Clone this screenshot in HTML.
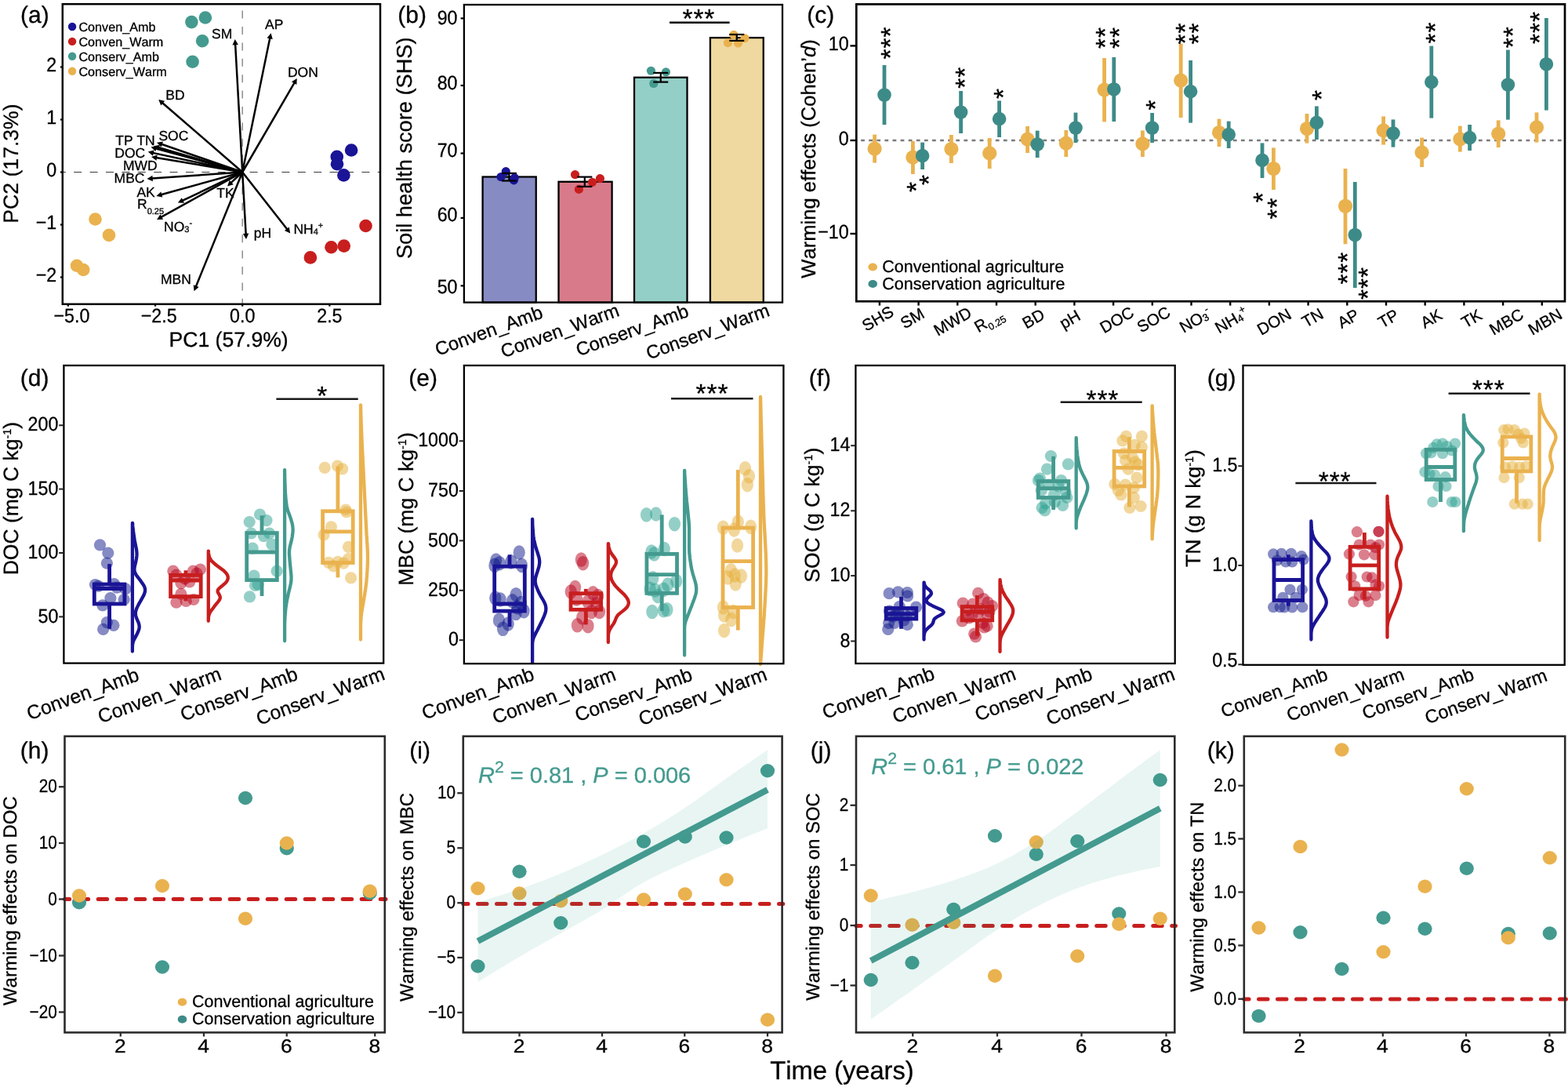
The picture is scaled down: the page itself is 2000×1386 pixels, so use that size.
<!DOCTYPE html>
<html lang="en"><head><meta charset="utf-8"><title>Figure</title>
<style>
html,body{margin:0;padding:0;background:#fff;}
body{width:2000px;height:1386px;overflow:hidden;}
svg{display:block;font-family:"Liberation Sans",sans-serif;text-rendering:geometricPrecision;font-kerning:none;}
</style></head><body>
<svg width="2000" height="1386" viewBox="0 0 2000 1386" role="img" aria-label="Multi-panel figure: PCA biplot, soil health score bars, warming effects, raincloud plots and time trends">
<rect width="2000" height="1386" fill="#fff"/>
<g id="pa">
<line x1="79.8" y1="219.5" x2="485" y2="219.5" stroke="#3a3a3a" stroke-width="1.1" stroke-dasharray="10 10.4" stroke-dashoffset="6"/>
<line x1="309.2" y1="387.8" x2="309.2" y2="5.2" stroke="#858585" stroke-width="1.4" stroke-dasharray="10 10.4" stroke-dashoffset="3"/>
<circle cx="244.4" cy="28.1" r="8.3" fill="#449a8f"/>
<circle cx="261.9" cy="22.5" r="8.3" fill="#449a8f"/>
<circle cx="258.1" cy="52.25" r="8.3" fill="#449a8f"/>
<circle cx="245.6" cy="78.75" r="8.3" fill="#449a8f"/>
<circle cx="448.1" cy="191.5" r="8.3" fill="#1a1496"/>
<circle cx="429.75" cy="199.9" r="8.3" fill="#1a1496"/>
<circle cx="430" cy="209.25" r="8.3" fill="#1a1496"/>
<circle cx="438.4" cy="223.4" r="8.3" fill="#1a1496"/>
<circle cx="466.5" cy="288" r="8.3" fill="#c81e1e"/>
<circle cx="438.75" cy="313.6" r="8.3" fill="#c81e1e"/>
<circle cx="422.5" cy="315.25" r="8.3" fill="#c81e1e"/>
<circle cx="395.9" cy="328.4" r="8.3" fill="#c81e1e"/>
<circle cx="121.5" cy="279.5" r="8.3" fill="#eab24e"/>
<circle cx="139" cy="299.9" r="8.3" fill="#eab24e"/>
<circle cx="98" cy="338.75" r="8.3" fill="#eab24e"/>
<circle cx="106.25" cy="344" r="8.3" fill="#eab24e"/>
<line x1="309.2" y1="219.5" x2="300.1" y2="56.19" stroke="#000" stroke-width="2.5"/>
<polygon points="299.75,50 303.85,56.98 296.46,57.39" fill="#000"/>
<line x1="309.2" y1="219.5" x2="344.35" y2="48.32" stroke="#000" stroke-width="2.5"/>
<polygon points="345.6,42.25 347.78,50.05 340.53,48.56" fill="#000"/>
<line x1="309.2" y1="219.5" x2="375.63" y2="105.36" stroke="#000" stroke-width="2.5"/>
<polygon points="378.75,100 378.33,108.08 371.93,104.36" fill="#000"/>
<line x1="309.2" y1="219.5" x2="206.94" y2="130.96" stroke="#000" stroke-width="2.5"/>
<polygon points="202.25,126.9 210.12,128.82 205.27,134.41" fill="#000"/>
<line x1="309.2" y1="219.5" x2="205.86" y2="183.78" stroke="#000" stroke-width="2.5"/>
<polygon points="200,181.75 208.01,180.61 205.6,187.6" fill="#000"/>
<line x1="309.2" y1="219.5" x2="201.95" y2="188.04" stroke="#000" stroke-width="2.5"/>
<polygon points="196,186.3 203.95,184.78 201.87,191.88" fill="#000"/>
<line x1="309.2" y1="219.5" x2="198.48" y2="189.23" stroke="#000" stroke-width="2.5"/>
<polygon points="192.5,187.6 200.42,185.93 198.47,193.07" fill="#000"/>
<line x1="309.2" y1="219.5" x2="194.81" y2="194.9" stroke="#000" stroke-width="2.5"/>
<polygon points="188.75,193.6 196.57,191.5 195.01,198.73" fill="#000"/>
<line x1="309.2" y1="219.5" x2="199.11" y2="200.93" stroke="#000" stroke-width="2.5"/>
<polygon points="193,199.9 200.72,197.45 199.48,204.75" fill="#000"/>
<line x1="309.2" y1="219.5" x2="193.68" y2="227.57" stroke="#000" stroke-width="2.5"/>
<polygon points="187.5,228 194.42,223.81 194.94,231.19" fill="#000"/>
<line x1="309.2" y1="219.5" x2="205.38" y2="248.25" stroke="#000" stroke-width="2.5"/>
<polygon points="199.4,249.9 205.35,244.41 207.33,251.54" fill="#000"/>
<line x1="309.2" y1="219.5" x2="232.5" y2="255.94" stroke="#000" stroke-width="2.5"/>
<polygon points="226.9,258.6 231.82,252.17 234.99,258.85" fill="#000"/>
<line x1="309.2" y1="219.5" x2="205.43" y2="276.9" stroke="#000" stroke-width="2.5"/>
<polygon points="200,279.9 204.51,273.18 208.09,279.65" fill="#000"/>
<line x1="309.2" y1="219.5" x2="294.53" y2="233.17" stroke="#000" stroke-width="2.5"/>
<polygon points="290,237.4 292.74,229.78 297.79,235.2" fill="#000"/>
<line x1="309.2" y1="219.5" x2="313.65" y2="298.71" stroke="#000" stroke-width="2.5"/>
<polygon points="314,304.9 309.9,297.92 317.29,297.5" fill="#000"/>
<line x1="309.2" y1="219.5" x2="366.43" y2="292.52" stroke="#000" stroke-width="2.5"/>
<polygon points="370.25,297.4 362.9,294.02 368.72,289.45" fill="#000"/>
<line x1="309.2" y1="219.5" x2="249.84" y2="365.51" stroke="#000" stroke-width="2.5"/>
<polygon points="247.5,371.25 246.78,363.19 253.64,365.97" fill="#000"/>
<text x="270" y="49" font-size="17.5" stroke="#000" stroke-width="0.3">SM</text>
<text x="338.1" y="37.1" font-size="17.5" stroke="#000" stroke-width="0.3">AP</text>
<text x="366.9" y="98.4" font-size="17.5" stroke="#000" stroke-width="0.3">DON</text>
<text x="211.25" y="126.5" font-size="17.5" stroke="#000" stroke-width="0.3">BD</text>
<text x="202.4" y="179.2" font-size="17.5" stroke="#000" stroke-width="0.3">SOC</text>
<text x="147.2" y="184.9" font-size="17.5" stroke="#000" stroke-width="0.3">TP TN</text>
<text x="146.25" y="200.75" font-size="17.5" stroke="#000" stroke-width="0.3">DOC</text>
<text x="156.9" y="216.75" font-size="17.5" stroke="#000" stroke-width="0.3">MWD</text>
<text x="145.6" y="233" font-size="17.5" stroke="#000" stroke-width="0.3">MBC</text>
<text x="174.4" y="251.1" font-size="17.5" stroke="#000" stroke-width="0.3">AK</text>
<text x="276.25" y="252.4" font-size="17.5" stroke="#000" stroke-width="0.3">TK</text>
<text x="323.75" y="303" font-size="17.5" stroke="#000" stroke-width="0.3">pH</text>
<text x="205" y="361.8" font-size="17.5" stroke="#000" stroke-width="0.3">MBN</text>
<text x="175" y="266.1" font-size="17.5" stroke="#000" stroke-width="0.3">R<tspan font-size="11" dy="6.5">0.25</tspan></text>
<text x="209" y="294.5" font-size="17.5" stroke="#000" stroke-width="0.3">NO<tspan font-size="11" dy="1">3</tspan><tspan font-size="11" dy="-7.5">-</tspan></text>
<text x="374.4" y="297.6" font-size="17.5" stroke="#000" stroke-width="0.3">NH<tspan font-size="11" dy="1">4</tspan><tspan font-size="11" dy="-7.5">+</tspan></text>
<circle cx="92.1" cy="34" r="5.2" fill="#1a1496"/>
<text x="100.4" y="39.8" font-size="16.2" stroke="#000" stroke-width="0.3">Conven_Amb</text>
<circle cx="92.1" cy="52.9" r="5.2" fill="#c81e1e"/>
<text x="100.4" y="58.7" font-size="16.2" stroke="#000" stroke-width="0.3">Conven_Warm</text>
<circle cx="92.1" cy="71.8" r="5.2" fill="#449a8f"/>
<text x="100.4" y="77.6" font-size="16.2" stroke="#000" stroke-width="0.3">Conserv_Amb</text>
<circle cx="92.1" cy="90.7" r="5.2" fill="#eab24e"/>
<text x="100.4" y="96.5" font-size="16.2" stroke="#000" stroke-width="0.3">Conserv_Warm</text>
<rect x="79.8" y="5.2" width="405.2" height="382.6" fill="none" stroke="#000" stroke-width="2.5"/>
<line x1="76.95" y1="85.5" x2="79.8" y2="85.5" stroke="#000" stroke-width="2.2"/>
<text font-size="25" text-anchor="end" stroke="#000" stroke-width="0.3" transform="translate(72.3 91.4) scale(0.93 1)">2</text>
<line x1="76.95" y1="152.5" x2="79.8" y2="152.5" stroke="#000" stroke-width="2.2"/>
<text font-size="25" text-anchor="end" stroke="#000" stroke-width="0.3" transform="translate(72.3 158.4) scale(0.93 1)">1</text>
<line x1="76.95" y1="219.5" x2="79.8" y2="219.5" stroke="#000" stroke-width="2.2"/>
<text font-size="25" text-anchor="end" stroke="#000" stroke-width="0.3" transform="translate(72.3 225.4) scale(0.93 1)">0</text>
<line x1="76.95" y1="286.5" x2="79.8" y2="286.5" stroke="#000" stroke-width="2.2"/>
<text font-size="25" text-anchor="end" stroke="#000" stroke-width="0.3" transform="translate(72.3 292.4) scale(0.93 1)">−1</text>
<line x1="76.95" y1="353.5" x2="79.8" y2="353.5" stroke="#000" stroke-width="2.2"/>
<text font-size="25" text-anchor="end" stroke="#000" stroke-width="0.3" transform="translate(72.3 359.4) scale(0.93 1)">−2</text>
<line x1="86.85" y1="387.8" x2="86.85" y2="390.65" stroke="#000" stroke-width="2.2"/>
<text font-size="25" text-anchor="middle" stroke="#000" stroke-width="0.3" transform="translate(91.45 410.8) scale(0.93 1)">−5.0</text>
<line x1="198.02" y1="387.8" x2="198.02" y2="390.65" stroke="#000" stroke-width="2.2"/>
<text font-size="25" text-anchor="middle" stroke="#000" stroke-width="0.3" transform="translate(202.62 410.8) scale(0.93 1)">−2.5</text>
<line x1="309.2" y1="387.8" x2="309.2" y2="390.65" stroke="#000" stroke-width="2.2"/>
<text font-size="25" text-anchor="middle" stroke="#000" stroke-width="0.3" transform="translate(309.2 410.8) scale(0.93 1)">0.0</text>
<line x1="420.38" y1="387.8" x2="420.38" y2="390.65" stroke="#000" stroke-width="2.2"/>
<text font-size="25" text-anchor="middle" stroke="#000" stroke-width="0.3" transform="translate(420.38 410.8) scale(0.93 1)">2.5</text>
<text x="291.6" y="442" font-size="26.6" text-anchor="middle" stroke="#000" stroke-width="0.3">PC1 (57.9%)</text>
<text font-size="26.6" text-anchor="middle" stroke="#000" stroke-width="0.3" transform="translate(23.2 208.5) rotate(-90)">PC2 (17.3%)</text>
<text x="26" y="28.8" font-size="30" stroke="#000" stroke-width="0.3">(a)</text>
</g>
<g id="pb">
<rect x="615.6" y="225.5" width="68.15" height="160.1" fill="#868bc4" stroke="#000" stroke-width="2.3"/>
<rect x="712.5" y="231.75" width="68.1" height="153.85" fill="#d87a8a" stroke="#000" stroke-width="2.3"/>
<rect x="809" y="98.75" width="67.5" height="286.85" fill="#94cfc7" stroke="#000" stroke-width="2.3"/>
<rect x="905.9" y="48.1" width="67.85" height="337.5" fill="#f0d9a0" stroke="#000" stroke-width="2.3"/>
<circle cx="645.25" cy="218.6" r="5.6" fill="#1a1496"/>
<circle cx="639" cy="225.5" r="5.6" fill="#1a1496"/>
<circle cx="655.4" cy="229.9" r="5.6" fill="#1a1496"/>
<circle cx="656.3" cy="226.6" r="5.6" fill="#1a1496"/>
<circle cx="733.5" cy="222.6" r="5.6" fill="#c81e1e"/>
<circle cx="738.4" cy="241.4" r="5.6" fill="#c81e1e"/>
<circle cx="765.4" cy="227.6" r="5.6" fill="#c81e1e"/>
<circle cx="755.5" cy="232.3" r="5.6" fill="#c81e1e"/>
<circle cx="830.4" cy="90.25" r="5.6" fill="#449a8f"/>
<circle cx="849.4" cy="91.9" r="5.6" fill="#449a8f"/>
<circle cx="833.75" cy="106.5" r="5.6" fill="#449a8f"/>
<circle cx="935.9" cy="44.4" r="5.6" fill="#eab24e"/>
<circle cx="950" cy="48.75" r="5.6" fill="#eab24e"/>
<circle cx="928.4" cy="54.6" r="5.6" fill="#eab24e"/>
<circle cx="941.5" cy="55" r="5.6" fill="#eab24e"/>
<line x1="649.4" y1="220.9" x2="649.4" y2="230.5" stroke="#000" stroke-width="2.2"/>
<line x1="639.9" y1="220.9" x2="658.9" y2="220.9" stroke="#000" stroke-width="2.2"/>
<line x1="639.9" y1="230.5" x2="658.9" y2="230.5" stroke="#000" stroke-width="2.2"/>
<line x1="745.8" y1="225.6" x2="745.8" y2="237.9" stroke="#000" stroke-width="2.2"/>
<line x1="736.3" y1="225.6" x2="755.3" y2="225.6" stroke="#000" stroke-width="2.2"/>
<line x1="736.3" y1="237.9" x2="755.3" y2="237.9" stroke="#000" stroke-width="2.2"/>
<line x1="842.75" y1="92.9" x2="842.75" y2="104.6" stroke="#000" stroke-width="2.2"/>
<line x1="833.25" y1="92.9" x2="852.25" y2="92.9" stroke="#000" stroke-width="2.2"/>
<line x1="833.25" y1="104.6" x2="852.25" y2="104.6" stroke="#000" stroke-width="2.2"/>
<line x1="939.75" y1="44" x2="939.75" y2="51.9" stroke="#000" stroke-width="2.2"/>
<line x1="930.25" y1="44" x2="949.25" y2="44" stroke="#000" stroke-width="2.2"/>
<line x1="930.25" y1="51.9" x2="949.25" y2="51.9" stroke="#000" stroke-width="2.2"/>
<line x1="854" y1="28.7" x2="930.6" y2="28.7" stroke="#000" stroke-width="2.4"/>
<text transform="translate(891.4 17.8)" y="17.42" font-size="33.5" text-anchor="middle" letter-spacing="0.9" stroke="#000" stroke-width="0.3">***</text>
<rect x="591.9" y="6" width="406.1" height="379.6" fill="none" stroke="#000" stroke-width="2.3"/>
<line x1="587.6" y1="23.4" x2="591.9" y2="23.4" stroke="#000" stroke-width="2.2"/>
<text font-size="25" text-anchor="end" stroke="#000" stroke-width="0.3" transform="translate(583.5 30.6) scale(0.93 1)">90</text>
<line x1="587.6" y1="109" x2="591.9" y2="109" stroke="#000" stroke-width="2.2"/>
<text font-size="25" text-anchor="end" stroke="#000" stroke-width="0.3" transform="translate(583.5 114) scale(0.93 1)">80</text>
<line x1="587.6" y1="195.5" x2="591.9" y2="195.5" stroke="#000" stroke-width="2.2"/>
<text font-size="25" text-anchor="end" stroke="#000" stroke-width="0.3" transform="translate(583.5 199.9) scale(0.93 1)">70</text>
<line x1="587.6" y1="277.9" x2="591.9" y2="277.9" stroke="#000" stroke-width="2.2"/>
<text font-size="25" text-anchor="end" stroke="#000" stroke-width="0.3" transform="translate(583.5 282.4) scale(0.93 1)">60</text>
<line x1="587.6" y1="364.4" x2="591.9" y2="364.4" stroke="#000" stroke-width="2.2"/>
<text font-size="25" text-anchor="end" stroke="#000" stroke-width="0.3" transform="translate(583.5 373.6) scale(0.93 1)">50</text>
<text font-size="23.8" text-anchor="end" stroke="#000" stroke-width="0.3" transform="translate(693.9 404.6) rotate(-20)">Conven_Amb</text>
<text font-size="23.8" text-anchor="end" stroke="#000" stroke-width="0.3" transform="translate(791.4 402.1) rotate(-20)">Conven_Warm</text>
<text font-size="23.8" text-anchor="end" stroke="#000" stroke-width="0.3" transform="translate(879.9 402.9) rotate(-20)">Conserv_Amb</text>
<text font-size="23.8" text-anchor="end" stroke="#000" stroke-width="0.3" transform="translate(983.1 402.1) rotate(-20)">Conserv_Warm</text>
<text font-size="27.2" text-anchor="middle" stroke="#000" stroke-width="0.3" transform="translate(524.8 188.8) rotate(-90)">Soil health score (SHS)</text>
<text x="507.3" y="28.9" font-size="30" stroke="#000" stroke-width="0.3">(b)</text>
</g>
<g id="pc">
<line x1="1092.3" y1="179" x2="1996" y2="179" stroke="#7a7a7a" stroke-width="2.4" stroke-dasharray="4.8 5.3" stroke-dashoffset="4.3"/>
<line x1="1115.6" y1="171.6" x2="1115.6" y2="207.6" stroke="#eab24e" stroke-width="4.8"/>
<circle cx="1115.6" cy="189.6" r="9.1" fill="#eab24e"/>
<line x1="1128" y1="83" x2="1128" y2="159" stroke="#3d8b88" stroke-width="4.8"/>
<circle cx="1128" cy="121" r="8.8" fill="#3d8b88"/>
<line x1="1164.4" y1="180" x2="1164.4" y2="222" stroke="#eab24e" stroke-width="4.8"/>
<circle cx="1164.4" cy="200.6" r="9.1" fill="#eab24e"/>
<line x1="1176.6" y1="181.6" x2="1176.6" y2="216" stroke="#3d8b88" stroke-width="4.8"/>
<circle cx="1176.6" cy="198.6" r="8.8" fill="#3d8b88"/>
<line x1="1213.4" y1="172" x2="1213.4" y2="208" stroke="#eab24e" stroke-width="4.8"/>
<circle cx="1213.4" cy="190" r="9.1" fill="#eab24e"/>
<line x1="1225.6" y1="116" x2="1225.6" y2="170" stroke="#3d8b88" stroke-width="4.8"/>
<circle cx="1225.6" cy="143" r="8.8" fill="#3d8b88"/>
<line x1="1262.2" y1="176" x2="1262.2" y2="215" stroke="#eab24e" stroke-width="4.8"/>
<circle cx="1262.2" cy="195.4" r="9.1" fill="#eab24e"/>
<line x1="1274.6" y1="128.4" x2="1274.6" y2="175" stroke="#3d8b88" stroke-width="4.8"/>
<circle cx="1274.6" cy="151.6" r="8.8" fill="#3d8b88"/>
<line x1="1310.6" y1="161" x2="1310.6" y2="195" stroke="#eab24e" stroke-width="4.8"/>
<circle cx="1310.6" cy="177.6" r="9.1" fill="#eab24e"/>
<line x1="1323.2" y1="166.6" x2="1323.2" y2="201" stroke="#3d8b88" stroke-width="4.8"/>
<circle cx="1323.2" cy="184" r="8.8" fill="#3d8b88"/>
<line x1="1359.8" y1="166" x2="1359.8" y2="200" stroke="#eab24e" stroke-width="4.8"/>
<circle cx="1359.8" cy="182.6" r="9.1" fill="#eab24e"/>
<line x1="1372" y1="143.6" x2="1372" y2="182" stroke="#3d8b88" stroke-width="4.8"/>
<circle cx="1372" cy="163" r="8.8" fill="#3d8b88"/>
<line x1="1408.6" y1="74" x2="1408.6" y2="155.4" stroke="#eab24e" stroke-width="4.8"/>
<circle cx="1408.6" cy="114.6" r="9.1" fill="#eab24e"/>
<line x1="1420.8" y1="73" x2="1420.8" y2="155" stroke="#3d8b88" stroke-width="4.8"/>
<circle cx="1420.8" cy="113.8" r="8.8" fill="#3d8b88"/>
<line x1="1457.4" y1="166.4" x2="1457.4" y2="200" stroke="#eab24e" stroke-width="4.8"/>
<circle cx="1457.4" cy="183.4" r="9.1" fill="#eab24e"/>
<line x1="1469.6" y1="144" x2="1469.6" y2="182" stroke="#3d8b88" stroke-width="4.8"/>
<circle cx="1469.6" cy="163" r="8.8" fill="#3d8b88"/>
<line x1="1506.2" y1="55.6" x2="1506.2" y2="150" stroke="#eab24e" stroke-width="4.8"/>
<circle cx="1506.2" cy="102.6" r="9.1" fill="#eab24e"/>
<line x1="1518.6" y1="77" x2="1518.6" y2="156.6" stroke="#3d8b88" stroke-width="4.8"/>
<circle cx="1518.6" cy="116.6" r="8.8" fill="#3d8b88"/>
<line x1="1555" y1="151.6" x2="1555" y2="187" stroke="#eab24e" stroke-width="4.8"/>
<circle cx="1555" cy="169" r="9.1" fill="#eab24e"/>
<line x1="1567.2" y1="154.6" x2="1567.2" y2="189" stroke="#3d8b88" stroke-width="4.8"/>
<circle cx="1567.2" cy="171.6" r="8.8" fill="#3d8b88"/>
<line x1="1610" y1="182.4" x2="1610" y2="227" stroke="#3d8b88" stroke-width="4.8"/>
<circle cx="1610" cy="204.4" r="8.8" fill="#3d8b88"/>
<line x1="1624.4" y1="188.4" x2="1624.4" y2="242" stroke="#eab24e" stroke-width="4.8"/>
<circle cx="1624.4" cy="215" r="9.1" fill="#eab24e"/>
<line x1="1667" y1="145" x2="1667" y2="182.6" stroke="#eab24e" stroke-width="4.8"/>
<circle cx="1667" cy="164" r="9.1" fill="#eab24e"/>
<line x1="1679.4" y1="135.4" x2="1679.4" y2="178" stroke="#3d8b88" stroke-width="4.8"/>
<circle cx="1679.4" cy="156.4" r="8.8" fill="#3d8b88"/>
<line x1="1716" y1="215" x2="1716" y2="311.25" stroke="#eab24e" stroke-width="4.8"/>
<circle cx="1716" cy="262.8" r="9.1" fill="#eab24e"/>
<line x1="1728.3" y1="232" x2="1728.3" y2="367" stroke="#3d8b88" stroke-width="4.8"/>
<circle cx="1728.3" cy="299.5" r="8.8" fill="#3d8b88"/>
<line x1="1764.6" y1="148.4" x2="1764.6" y2="184.6" stroke="#eab24e" stroke-width="4.8"/>
<circle cx="1764.6" cy="166.4" r="9.1" fill="#eab24e"/>
<line x1="1777" y1="152.4" x2="1777" y2="187.6" stroke="#3d8b88" stroke-width="4.8"/>
<circle cx="1777" cy="170" r="8.8" fill="#3d8b88"/>
<line x1="1813.6" y1="175.6" x2="1813.6" y2="213" stroke="#eab24e" stroke-width="4.8"/>
<circle cx="1813.6" cy="194.4" r="9.1" fill="#eab24e"/>
<line x1="1825.8" y1="58.6" x2="1825.8" y2="150.6" stroke="#3d8b88" stroke-width="4.8"/>
<circle cx="1825.8" cy="104.6" r="8.8" fill="#3d8b88"/>
<line x1="1862.4" y1="160.6" x2="1862.4" y2="193.6" stroke="#eab24e" stroke-width="4.8"/>
<circle cx="1862.4" cy="177.4" r="9.1" fill="#eab24e"/>
<line x1="1874.6" y1="159" x2="1874.6" y2="192" stroke="#3d8b88" stroke-width="4.8"/>
<circle cx="1874.6" cy="175.6" r="8.8" fill="#3d8b88"/>
<line x1="1911.2" y1="153.4" x2="1911.2" y2="188" stroke="#eab24e" stroke-width="4.8"/>
<circle cx="1911.2" cy="170.6" r="9.1" fill="#eab24e"/>
<line x1="1923.4" y1="63.6" x2="1923.4" y2="152.6" stroke="#3d8b88" stroke-width="4.8"/>
<circle cx="1923.4" cy="108" r="8.8" fill="#3d8b88"/>
<line x1="1960" y1="143.4" x2="1960" y2="181.6" stroke="#eab24e" stroke-width="4.8"/>
<circle cx="1960" cy="162.4" r="9.1" fill="#eab24e"/>
<line x1="1972.4" y1="23" x2="1972.4" y2="140.6" stroke="#3d8b88" stroke-width="4.8"/>
<circle cx="1972.4" cy="81.8" r="8.8" fill="#3d8b88"/>
<text transform="translate(1129.6 54.5) rotate(-90)" y="17.42" font-size="33.5" text-anchor="middle" letter-spacing="0.9" stroke="#000" stroke-width="0.3">***</text>
<text transform="translate(1225 98.7) rotate(-90)" y="17.42" font-size="33.5" text-anchor="middle" letter-spacing="0.9" stroke="#000" stroke-width="0.3">**</text>
<text transform="translate(1274 119) rotate(-90)" y="17.42" font-size="33.5" text-anchor="middle" letter-spacing="0.9" stroke="#000" stroke-width="0.3">*</text>
<text transform="translate(1163 238) rotate(-90)" y="17.42" font-size="33.5" text-anchor="middle" letter-spacing="0.9" stroke="#000" stroke-width="0.3">*</text>
<text transform="translate(1178.6 229) rotate(-90)" y="17.42" font-size="33.5" text-anchor="middle" letter-spacing="0.9" stroke="#000" stroke-width="0.3">*</text>
<text transform="translate(1404 48) rotate(-90)" y="17.42" font-size="33.5" text-anchor="middle" letter-spacing="0.9" stroke="#000" stroke-width="0.3">**</text>
<text transform="translate(1421.4 48) rotate(-90)" y="17.42" font-size="33.5" text-anchor="middle" letter-spacing="0.9" stroke="#000" stroke-width="0.3">**</text>
<text transform="translate(1468 133.6) rotate(-90)" y="17.42" font-size="33.5" text-anchor="middle" letter-spacing="0.9" stroke="#000" stroke-width="0.3">*</text>
<text transform="translate(1505.4 42.5) rotate(-90)" y="17.42" font-size="33.5" text-anchor="middle" letter-spacing="0.9" stroke="#000" stroke-width="0.3">**</text>
<text transform="translate(1522.2 42.5) rotate(-90)" y="17.42" font-size="33.5" text-anchor="middle" letter-spacing="0.9" stroke="#000" stroke-width="0.3">**</text>
<text transform="translate(1604.2 251.2) rotate(-90)" y="17.42" font-size="33.5" text-anchor="middle" letter-spacing="0.9" stroke="#000" stroke-width="0.3">*</text>
<text transform="translate(1622.5 265.6) rotate(-90)" y="17.42" font-size="33.5" text-anchor="middle" letter-spacing="0.9" stroke="#000" stroke-width="0.3">**</text>
<text transform="translate(1679.8 121) rotate(-90)" y="17.42" font-size="33.5" text-anchor="middle" letter-spacing="0.9" stroke="#000" stroke-width="0.3">*</text>
<text transform="translate(1712.5 341.7) rotate(-90)" y="17.42" font-size="33.5" text-anchor="middle" letter-spacing="0.9" stroke="#000" stroke-width="0.3">***</text>
<text transform="translate(1738.25 361) rotate(-90)" y="17.42" font-size="33.5" text-anchor="middle" letter-spacing="0.9" stroke="#000" stroke-width="0.3">***</text>
<text transform="translate(1825 41.5) rotate(-90)" y="17.42" font-size="33.5" text-anchor="middle" letter-spacing="0.9" stroke="#000" stroke-width="0.3">**</text>
<text transform="translate(1923.6 47.2) rotate(-90)" y="17.42" font-size="33.5" text-anchor="middle" letter-spacing="0.9" stroke="#000" stroke-width="0.3">**</text>
<text transform="translate(1957.6 35) rotate(-90)" y="17.42" font-size="33.5" text-anchor="middle" letter-spacing="0.9" stroke="#000" stroke-width="0.3">***</text>
<ellipse cx="1113.2" cy="340.5" rx="5.8" ry="5.0" fill="#eab24e"/>
<text x="1125.3" y="347.2" font-size="21.5" stroke="#000" stroke-width="0.3">Conventional agriculture</text>
<ellipse cx="1113.2" cy="362.0" rx="5.8" ry="5.0" fill="#3d8b88"/>
<text x="1125.3" y="369.2" font-size="21.5" stroke="#000" stroke-width="0.3">Conservation agriculture</text>
<rect x="1092.3" y="5.4" width="903.7" height="378.85" fill="none" stroke="#000" stroke-width="2.7"/>
<line x1="1084.45" y1="58.4" x2="1092.3" y2="58.4" stroke="#000" stroke-width="2.4"/>
<text font-size="25" text-anchor="end" stroke="#000" stroke-width="0.3" transform="translate(1082.7 64.4) scale(0.93 1)">10</text>
<line x1="1084.45" y1="179" x2="1092.3" y2="179" stroke="#000" stroke-width="2.4"/>
<text font-size="25" text-anchor="end" stroke="#000" stroke-width="0.3" transform="translate(1082.7 185) scale(0.93 1)">0</text>
<line x1="1084.45" y1="298" x2="1092.3" y2="298" stroke="#000" stroke-width="2.4"/>
<text font-size="25" text-anchor="end" stroke="#000" stroke-width="0.3" transform="translate(1082.7 304) scale(0.93 1)">−10</text>
<line x1="1121.9" y1="384.25" x2="1121.9" y2="389.6" stroke="#000" stroke-width="2.4"/>
<text transform="translate(1119.4 405.8) rotate(-30)" y="7.45" font-size="20.7" text-anchor="middle" stroke="#000" stroke-width="0.3">SHS</text>
<line x1="1171.6" y1="384.25" x2="1171.6" y2="389.6" stroke="#000" stroke-width="2.4"/>
<text transform="translate(1163.4 405.5) rotate(-30)" y="7.45" font-size="20.7" text-anchor="middle" stroke="#000" stroke-width="0.3">SM</text>
<line x1="1221.3" y1="384.25" x2="1221.3" y2="389.6" stroke="#000" stroke-width="2.4"/>
<text transform="translate(1214.8 409.5) rotate(-30)" y="7.45" font-size="20.7" text-anchor="middle" stroke="#000" stroke-width="0.3">MWD</text>
<line x1="1271" y1="384.25" x2="1271" y2="389.6" stroke="#000" stroke-width="2.4"/>
<text transform="translate(1261.3 408.3) rotate(-30)" y="7.45" font-size="20.7" text-anchor="middle" stroke="#000" stroke-width="0.3">R<tspan font-size="12.5" dy="5">0.25</tspan></text>
<line x1="1320.7" y1="384.25" x2="1320.7" y2="389.6" stroke="#000" stroke-width="2.4"/>
<text transform="translate(1318 406) rotate(-30)" y="7.45" font-size="20.7" text-anchor="middle" stroke="#000" stroke-width="0.3">BD</text>
<line x1="1370.4" y1="384.25" x2="1370.4" y2="389.6" stroke="#000" stroke-width="2.4"/>
<text transform="translate(1364.4 407) rotate(-30)" y="7.45" font-size="20.7" text-anchor="middle" stroke="#000" stroke-width="0.3">pH</text>
<line x1="1420.1" y1="384.25" x2="1420.1" y2="389.6" stroke="#000" stroke-width="2.4"/>
<text transform="translate(1424.4 407.5) rotate(-30)" y="7.45" font-size="20.7" text-anchor="middle" stroke="#000" stroke-width="0.3">DOC</text>
<line x1="1469.8" y1="384.25" x2="1469.8" y2="389.6" stroke="#000" stroke-width="2.4"/>
<text transform="translate(1471.25 407) rotate(-30)" y="7.45" font-size="20.7" text-anchor="middle" stroke="#000" stroke-width="0.3">SOC</text>
<line x1="1519.5" y1="384.25" x2="1519.5" y2="389.6" stroke="#000" stroke-width="2.4"/>
<text transform="translate(1524.4 408) rotate(-30)" y="7.45" font-size="20.7" text-anchor="middle" stroke="#000" stroke-width="0.3">NO<tspan font-size="13" dy="1">3</tspan><tspan font-size="13" dy="-9">-</tspan></text>
<line x1="1569.2" y1="384.25" x2="1569.2" y2="389.6" stroke="#000" stroke-width="2.4"/>
<text transform="translate(1570.6 408) rotate(-30)" y="7.45" font-size="20.7" text-anchor="middle" stroke="#000" stroke-width="0.3">NH<tspan font-size="13" dy="1">4</tspan><tspan font-size="13" dy="-9">+</tspan></text>
<line x1="1618.9" y1="384.25" x2="1618.9" y2="389.6" stroke="#000" stroke-width="2.4"/>
<text transform="translate(1625 410) rotate(-30)" y="7.45" font-size="20.7" text-anchor="middle" stroke="#000" stroke-width="0.3">DON</text>
<line x1="1668.6" y1="384.25" x2="1668.6" y2="389.6" stroke="#000" stroke-width="2.4"/>
<text transform="translate(1674 405) rotate(-30)" y="7.45" font-size="20.7" text-anchor="middle" stroke="#000" stroke-width="0.3">TN</text>
<line x1="1718.3" y1="384.25" x2="1718.3" y2="389.6" stroke="#000" stroke-width="2.4"/>
<text transform="translate(1719.4 406) rotate(-30)" y="7.45" font-size="20.7" text-anchor="middle" stroke="#000" stroke-width="0.3">AP</text>
<line x1="1768" y1="384.25" x2="1768" y2="389.6" stroke="#000" stroke-width="2.4"/>
<text transform="translate(1770.6 406) rotate(-30)" y="7.45" font-size="20.7" text-anchor="middle" stroke="#000" stroke-width="0.3">TP</text>
<line x1="1817.7" y1="384.25" x2="1817.7" y2="389.6" stroke="#000" stroke-width="2.4"/>
<text transform="translate(1825.4 406) rotate(-30)" y="7.45" font-size="20.7" text-anchor="middle" stroke="#000" stroke-width="0.3">AK</text>
<line x1="1867.4" y1="384.25" x2="1867.4" y2="389.6" stroke="#000" stroke-width="2.4"/>
<text transform="translate(1876.9 406) rotate(-30)" y="7.45" font-size="20.7" text-anchor="middle" stroke="#000" stroke-width="0.3">TK</text>
<line x1="1917.1" y1="384.25" x2="1917.1" y2="389.6" stroke="#000" stroke-width="2.4"/>
<text transform="translate(1921.25 410) rotate(-30)" y="7.45" font-size="20.7" text-anchor="middle" stroke="#000" stroke-width="0.3">MBC</text>
<line x1="1966.8" y1="384.25" x2="1966.8" y2="389.6" stroke="#000" stroke-width="2.4"/>
<text transform="translate(1970.6 410) rotate(-30)" y="7.45" font-size="20.7" text-anchor="middle" stroke="#000" stroke-width="0.3">MBN</text>
<text font-size="25.6" text-anchor="middle" stroke="#000" stroke-width="0.3" transform="translate(1040 202.5) rotate(-90)">Warming effects (Cohen’<tspan font-style="italic">d</tspan>)</text>
<text x="1029.3" y="28.9" font-size="30" stroke="#000" stroke-width="0.3">(c)</text>
</g>
<g id="pd">
<g fill="#0d1789" fill-opacity="0.5"><ellipse cx="127.5" cy="694.9" rx="7.6" ry="7.6"/><ellipse cx="137.8" cy="705.1" rx="7.6" ry="7.6"/><ellipse cx="136.4" cy="718.2" rx="7.6" ry="7.6"/><ellipse cx="121.5" cy="745.5" rx="7.6" ry="7.6"/><ellipse cx="125.5" cy="747.3" rx="7.6" ry="7.6"/><ellipse cx="145.5" cy="744.5" rx="7.6" ry="7.6"/><ellipse cx="149.1" cy="749.1" rx="7.6" ry="7.6"/><ellipse cx="160" cy="750.9" rx="7.6" ry="7.6"/><ellipse cx="140.9" cy="762.7" rx="7.6" ry="7.6"/><ellipse cx="158.2" cy="764.5" rx="7.6" ry="7.6"/><ellipse cx="130.9" cy="771.8" rx="7.6" ry="7.6"/><ellipse cx="136.4" cy="793.6" rx="7.6" ry="7.6"/><ellipse cx="144.9" cy="797.3" rx="7.6" ry="7.6"/><ellipse cx="131.6" cy="802.4" rx="7.6" ry="7.6"/></g>
<g fill="#b8001a" fill-opacity="0.5"><ellipse cx="220.9" cy="728.2" rx="7.6" ry="7.6"/><ellipse cx="225" cy="733" rx="7.6" ry="7.6"/><ellipse cx="255.5" cy="726" rx="7.6" ry="7.6"/><ellipse cx="246.4" cy="728.2" rx="7.6" ry="7.6"/><ellipse cx="251" cy="731" rx="7.6" ry="7.6"/><ellipse cx="230.9" cy="743.6" rx="7.6" ry="7.6"/><ellipse cx="241.8" cy="741.8" rx="7.6" ry="7.6"/><ellipse cx="236" cy="738" rx="7.6" ry="7.6"/><ellipse cx="230.9" cy="757.3" rx="7.6" ry="7.6"/><ellipse cx="224.9" cy="768.2" rx="7.6" ry="7.6"/><ellipse cx="237.3" cy="766.4" rx="7.6" ry="7.6"/><ellipse cx="246.9" cy="764.5" rx="7.6" ry="7.6"/></g>
<g fill="#2aa08f" fill-opacity="0.5"><ellipse cx="331.5" cy="656" rx="7.6" ry="7.6"/><ellipse cx="318.2" cy="665.5" rx="7.6" ry="7.6"/><ellipse cx="340" cy="663.6" rx="7.6" ry="7.6"/><ellipse cx="320.4" cy="680" rx="7.6" ry="7.6"/><ellipse cx="343.6" cy="680" rx="7.6" ry="7.6"/><ellipse cx="336.4" cy="683.6" rx="7.6" ry="7.6"/><ellipse cx="346.9" cy="694.2" rx="7.6" ry="7.6"/><ellipse cx="322.2" cy="699.1" rx="7.6" ry="7.6"/><ellipse cx="353.1" cy="728.2" rx="7.6" ry="7.6"/><ellipse cx="324" cy="734.2" rx="7.6" ry="7.6"/><ellipse cx="325.5" cy="746.4" rx="7.6" ry="7.6"/><ellipse cx="329.1" cy="745.5" rx="7.6" ry="7.6"/><ellipse cx="318.5" cy="760.9" rx="7.6" ry="7.6"/></g>
<g fill="#e6b03a" fill-opacity="0.5"><ellipse cx="414.2" cy="596.4" rx="7.6" ry="7.6"/><ellipse cx="430.5" cy="594.2" rx="7.6" ry="7.6"/><ellipse cx="436.7" cy="597.8" rx="7.6" ry="7.6"/><ellipse cx="440.9" cy="650" rx="7.6" ry="7.6"/><ellipse cx="442" cy="653" rx="7.6" ry="7.6"/><ellipse cx="422.4" cy="671.8" rx="7.6" ry="7.6"/><ellipse cx="413.1" cy="681.8" rx="7.6" ry="7.6"/><ellipse cx="444.5" cy="697.3" rx="7.6" ry="7.6"/><ellipse cx="444.5" cy="712.7" rx="7.6" ry="7.6"/><ellipse cx="419.1" cy="717.3" rx="7.6" ry="7.6"/><ellipse cx="430.9" cy="716.4" rx="7.6" ry="7.6"/><ellipse cx="438.2" cy="718.2" rx="7.6" ry="7.6"/><ellipse cx="425.5" cy="721.8" rx="7.6" ry="7.6"/><ellipse cx="447.6" cy="736.9" rx="7.6" ry="7.6"/></g>
<g fill="none" stroke="#1a1496" stroke-width="4.8"><rect x="120.3" y="745" width="38.6" height="25"/><line x1="120.3" y1="750.5" x2="158.9" y2="750.5"/><line x1="139.6" y1="719.1" x2="139.6" y2="745"/><line x1="139.6" y1="770" x2="139.6" y2="801.8"/></g>
<g fill="none" stroke="#c81e1e" stroke-width="4.8"><rect x="217.6" y="733.4" width="38.6" height="27.2"/><line x1="217.6" y1="740" x2="256.2" y2="740"/><line x1="236.9" y1="727.3" x2="236.9" y2="733.4"/><line x1="236.9" y1="760.6" x2="236.9" y2="766.4"/></g>
<g fill="none" stroke="#449a8f" stroke-width="4.8"><rect x="314.7" y="679.6" width="38.6" height="60"/><line x1="314.7" y1="704" x2="353.3" y2="704"/><line x1="334" y1="657.3" x2="334" y2="679.6"/><line x1="334" y1="739.6" x2="334" y2="760"/></g>
<g fill="none" stroke="#eab24e" stroke-width="4.8"><rect x="411.6" y="651.8" width="38.6" height="65.7"/><line x1="411.6" y1="677.8" x2="450.2" y2="677.8"/><line x1="430.9" y1="594.5" x2="430.9" y2="651.8"/><line x1="430.9" y1="717.5" x2="430.9" y2="736.4"/></g>
<path d="M168.9,830.5 L168.9,666.9 169.1,666.9 169.2,668.9 169.3,670.9 169.5,672.9 169.7,674.9 170.0,676.9 170.2,678.9 170.5,680.9 170.8,682.9 171.1,684.9 171.4,686.9 171.7,688.9 172.1,690.9 172.5,692.9 172.9,694.9 173.3,696.9 173.7,698.9 174.1,700.9 174.3,702.9 174.5,704.9 174.5,706.9 174.4,708.9 174.2,710.9 173.9,712.9 173.5,714.9 173.1,716.9 172.6,718.9 172.1,720.9 171.7,722.9 171.4,724.9 171.4,726.9 171.8,728.9 172.5,730.9 173.6,732.9 175.0,734.9 176.5,736.9 178.1,738.9 179.6,740.9 181.0,742.9 182.4,744.9 183.6,746.9 184.5,748.9 185.0,750.9 185.1,752.9 184.8,754.9 184.2,756.9 183.4,758.9 182.3,760.9 181.2,762.9 180.1,764.9 179.0,766.9 177.8,768.9 176.7,770.9 175.7,772.9 174.7,774.9 173.9,776.9 173.3,778.9 172.9,780.9 172.9,782.9 173.2,784.9 173.7,786.9 174.4,788.9 175.3,790.9 176.2,792.9 177.0,794.9 177.5,796.9 177.7,798.9 177.6,800.9 177.1,802.9 176.4,804.9 175.5,806.9 174.6,808.9 173.5,810.9 172.4,812.9 171.3,814.9 170.4,816.9 169.7,818.9 169.3,820.9 169.0,822.9 168.9,824.9 168.9,826.9 168.9,828.9 168.9,830.5" fill="none" stroke="#1a1496" stroke-width="4.3" stroke-linecap="round" stroke-linejoin="round"/>
<path d="M265.8,791.8 L265.8,702.7 265.9,702.7 266.0,704.7 266.2,706.7 266.6,708.7 267.2,710.7 268.2,712.7 269.5,714.7 271.4,716.7 273.6,718.7 276.1,720.7 278.8,722.7 281.5,724.7 284.2,726.7 286.5,728.7 288.4,730.7 289.8,732.7 290.6,734.7 290.8,736.7 290.5,738.7 289.6,740.7 288.1,742.7 286.1,744.7 283.7,746.7 281.1,748.7 279.0,750.7 277.7,752.7 277.7,754.7 278.7,756.7 279.9,758.7 280.7,760.7 280.8,762.7 280.0,764.7 278.6,766.7 277.1,768.7 275.4,770.7 273.8,772.7 272.3,774.7 270.8,776.7 269.3,778.7 268.0,780.7 267.0,782.7 266.4,784.7 266.0,786.7 265.9,788.7 265.8,790.7 265.8,791.8" fill="none" stroke="#c81e1e" stroke-width="4.3" stroke-linecap="round" stroke-linejoin="round"/>
<path d="M363.1,817.3 L363.1,599.1 363.1,599.1 363.1,601.1 363.1,603.1 363.2,605.1 363.2,607.1 363.2,609.1 363.3,611.1 363.4,613.1 363.4,615.1 363.5,617.1 363.6,619.1 363.7,621.1 363.7,623.1 363.8,625.1 363.9,627.1 364.0,629.1 364.2,631.1 364.3,633.1 364.5,635.1 364.6,637.1 364.9,639.1 365.1,641.1 365.4,643.1 365.7,645.1 366.1,647.1 366.6,649.1 367.2,651.1 367.9,653.1 368.6,655.1 369.4,657.1 370.1,659.1 370.8,661.1 371.4,663.1 372.0,665.1 372.5,667.1 373.0,669.1 373.3,671.1 373.5,673.1 373.6,675.1 373.6,677.1 373.4,679.1 373.2,681.1 372.9,683.1 372.6,685.1 372.2,687.1 371.8,689.1 371.3,691.1 370.8,693.1 370.3,695.1 369.8,697.1 369.4,699.1 369.2,701.1 369.0,703.1 369.0,705.1 369.0,707.1 369.2,709.1 369.3,711.1 369.5,713.1 369.6,715.1 369.8,717.1 370.0,719.1 370.2,721.1 370.4,723.1 370.6,725.1 370.8,727.1 371.0,729.1 371.2,731.1 371.4,733.1 371.5,735.1 371.5,737.1 371.5,739.1 371.3,741.1 371.0,743.1 370.7,745.1 370.2,747.1 369.8,749.1 369.3,751.1 368.8,753.1 368.3,755.1 367.8,757.1 367.4,759.1 367.0,761.1 366.5,763.1 366.1,765.1 365.7,767.1 365.4,769.1 365.1,771.1 364.8,773.1 364.5,775.1 364.3,777.1 364.1,779.1 364.0,781.1 363.8,783.1 363.6,785.1 363.5,787.1 363.4,789.1 363.3,791.1 363.2,793.1 363.2,795.1 363.1,797.1 363.1,799.1 363.1,801.1 363.1,803.1 363.1,805.1 363.1,807.1 363.1,809.1 363.1,811.1 363.1,813.1 363.1,815.1 363.1,817.1 363.1,817.3" fill="none" stroke="#449a8f" stroke-width="4.3" stroke-linecap="round" stroke-linejoin="round"/>
<path d="M460,815.5 L460,516.4 460.0,516.4 460.1,518.4 460.1,520.4 460.2,522.4 460.2,524.4 460.3,526.4 460.3,528.4 460.4,530.4 460.5,532.4 460.5,534.4 460.6,536.4 460.7,538.4 460.7,540.4 460.8,542.4 460.9,544.4 461.0,546.4 461.0,548.4 461.1,550.4 461.2,552.4 461.3,554.4 461.4,556.4 461.4,558.4 461.5,560.4 461.6,562.4 461.7,564.4 461.8,566.4 461.9,568.4 462.0,570.4 462.1,572.4 462.2,574.4 462.3,576.4 462.4,578.4 462.5,580.4 462.6,582.4 462.7,584.4 462.8,586.4 462.9,588.4 463.0,590.4 463.1,592.4 463.2,594.4 463.3,596.4 463.4,598.4 463.5,600.4 463.6,602.4 463.7,604.4 463.8,606.4 463.9,608.4 464.0,610.4 464.1,612.4 464.2,614.4 464.3,616.4 464.4,618.4 464.5,620.4 464.6,622.4 464.7,624.4 464.8,626.4 464.9,628.4 465.0,630.4 465.1,632.4 465.2,634.4 465.3,636.4 465.4,638.4 465.5,640.4 465.6,642.4 465.7,644.4 465.8,646.4 465.9,648.4 466.0,650.4 466.1,652.4 466.2,654.4 466.3,656.4 466.4,658.4 466.5,660.4 466.6,662.4 466.7,664.4 466.8,666.4 466.9,668.4 467.0,670.4 467.1,672.4 467.2,674.4 467.3,676.4 467.4,678.4 467.5,680.4 467.6,682.4 467.8,684.4 467.9,686.4 468.0,688.4 468.1,690.4 468.3,692.4 468.4,694.4 468.5,696.4 468.6,698.4 468.7,700.4 468.8,702.4 468.9,704.4 468.9,706.4 469.0,708.4 469.0,710.4 469.0,712.4 469.0,714.4 468.9,716.4 468.9,718.4 468.8,720.4 468.7,722.4 468.6,724.4 468.5,726.4 468.4,728.4 468.2,730.4 468.1,732.4 468.0,734.4 467.8,736.4 467.6,738.4 467.5,740.4 467.3,742.4 467.1,744.4 466.8,746.4 466.6,748.4 466.3,750.4 466.0,752.4 465.7,754.4 465.4,756.4 465.1,758.4 464.8,760.4 464.4,762.4 464.1,764.4 463.8,766.4 463.4,768.4 463.1,770.4 462.7,772.4 462.4,774.4 462.0,776.4 461.7,778.4 461.4,780.4 461.1,782.4 460.9,784.4 460.7,786.4 460.5,788.4 460.4,790.4 460.2,792.4 460.1,794.4 460.1,796.4 460.0,798.4 460.0,800.4 460.0,802.4 460.0,804.4 460.0,806.4 460.0,808.4 460.0,810.4 460.0,812.4 460.0,814.4 460.0,815.5" fill="none" stroke="#eab24e" stroke-width="4.3" stroke-linecap="round" stroke-linejoin="round"/>
<line x1="352.4" y1="508.7" x2="456.7" y2="508.7" stroke="#1a1a1a" stroke-width="2.4"/>
<text transform="translate(411.3 498.3)" y="17.42" font-size="33.5" text-anchor="middle" letter-spacing="0.9" stroke="#000" stroke-width="0.3">*</text>
<rect x="81.4" y="466" width="407.8" height="379.6" fill="none" stroke="#000" stroke-width="2.3"/>
<line x1="75.2" y1="542.3" x2="81.4" y2="542.3" stroke="#222" stroke-width="2"/>
<text font-size="25" text-anchor="end" stroke="#000" stroke-width="0.3" transform="translate(74.4 549.4) scale(0.93 1)">200</text>
<line x1="75.2" y1="623.6" x2="81.4" y2="623.6" stroke="#222" stroke-width="2"/>
<text font-size="25" text-anchor="end" stroke="#000" stroke-width="0.3" transform="translate(74.4 630.7) scale(0.93 1)">150</text>
<line x1="75.2" y1="705" x2="81.4" y2="705" stroke="#222" stroke-width="2"/>
<text font-size="25" text-anchor="end" stroke="#000" stroke-width="0.3" transform="translate(74.4 712.1) scale(0.93 1)">100</text>
<line x1="75.2" y1="786.4" x2="81.4" y2="786.4" stroke="#222" stroke-width="2"/>
<text font-size="25" text-anchor="end" stroke="#000" stroke-width="0.3" transform="translate(74.4 793.5) scale(0.93 1)">50</text>
<text font-size="24.8" text-anchor="end" stroke="#000" stroke-width="0.3" transform="translate(179 867) rotate(-20)">Conven_Amb</text>
<text font-size="24.8" text-anchor="end" stroke="#000" stroke-width="0.3" transform="translate(284 866) rotate(-20)">Conven_Warm</text>
<text font-size="24.8" text-anchor="end" stroke="#000" stroke-width="0.3" transform="translate(381.5 866) rotate(-20)">Conserv_Amb</text>
<text font-size="24.8" text-anchor="end" stroke="#000" stroke-width="0.3" transform="translate(492.3 866) rotate(-20)">Conserv_Warm</text>
<text font-size="26.5" text-anchor="middle" stroke="#000" stroke-width="0.3" transform="translate(22.8 635.6) rotate(-90)">DOC (mg C kg<tspan font-size="14.5" dy="-9.3">-1</tspan><tspan dy="9.3">)</tspan></text>
<text x="25.8" y="491.9" font-size="30" stroke="#000" stroke-width="0.3">(d)</text>
</g>
<g id="pe">
<g fill="#0d1789" fill-opacity="0.5"><ellipse cx="662.2" cy="704.5" rx="7.6" ry="9.3"/><ellipse cx="632.7" cy="714.5" rx="7.6" ry="9.3"/><ellipse cx="637.3" cy="718.2" rx="7.6" ry="9.3"/><ellipse cx="630.9" cy="720.9" rx="7.6" ry="9.3"/><ellipse cx="651.8" cy="716.4" rx="7.6" ry="9.3"/><ellipse cx="665.5" cy="720.9" rx="7.6" ry="9.3"/><ellipse cx="658.2" cy="758.2" rx="7.6" ry="9.3"/><ellipse cx="631.8" cy="762.7" rx="7.6" ry="9.3"/><ellipse cx="638.2" cy="764.5" rx="7.6" ry="9.3"/><ellipse cx="653.6" cy="766.4" rx="7.6" ry="9.3"/><ellipse cx="664.5" cy="769.1" rx="7.6" ry="9.3"/><ellipse cx="660" cy="774.5" rx="7.6" ry="9.3"/><ellipse cx="668.2" cy="779.1" rx="7.6" ry="9.3"/><ellipse cx="658.2" cy="781.8" rx="7.6" ry="9.3"/><ellipse cx="636.4" cy="790.9" rx="7.6" ry="9.3"/><ellipse cx="648.2" cy="795.5" rx="7.6" ry="9.3"/><ellipse cx="641.5" cy="801.8" rx="7.6" ry="9.3"/></g>
<g fill="#b8001a" fill-opacity="0.5"><ellipse cx="741.3" cy="713.6" rx="7.6" ry="9.3"/><ellipse cx="743.6" cy="718.2" rx="7.6" ry="9.3"/><ellipse cx="733.6" cy="749.1" rx="7.6" ry="9.3"/><ellipse cx="728.2" cy="754.5" rx="7.6" ry="9.3"/><ellipse cx="756.4" cy="756.4" rx="7.6" ry="9.3"/><ellipse cx="762.7" cy="760" rx="7.6" ry="9.3"/><ellipse cx="735.5" cy="763.6" rx="7.6" ry="9.3"/><ellipse cx="750" cy="767.3" rx="7.6" ry="9.3"/><ellipse cx="760.9" cy="770.9" rx="7.6" ry="9.3"/><ellipse cx="764.5" cy="780" rx="7.6" ry="9.3"/><ellipse cx="754.5" cy="780" rx="7.6" ry="9.3"/><ellipse cx="742.7" cy="787.3" rx="7.6" ry="9.3"/><ellipse cx="736.4" cy="797.3" rx="7.6" ry="9.3"/><ellipse cx="750" cy="798.2" rx="7.6" ry="9.3"/></g>
<g fill="#2aa08f" fill-opacity="0.5"><ellipse cx="824.5" cy="656.4" rx="7.6" ry="9.3"/><ellipse cx="836.7" cy="655.5" rx="7.6" ry="9.3"/><ellipse cx="860.4" cy="668.2" rx="7.6" ry="9.3"/><ellipse cx="830.9" cy="703.6" rx="7.6" ry="9.3"/><ellipse cx="847.3" cy="700" rx="7.6" ry="9.3"/><ellipse cx="834.5" cy="706.4" rx="7.6" ry="9.3"/><ellipse cx="832.7" cy="737.3" rx="7.6" ry="9.3"/><ellipse cx="862.7" cy="740.9" rx="7.6" ry="9.3"/><ellipse cx="851.8" cy="745.5" rx="7.6" ry="9.3"/><ellipse cx="829.1" cy="750.9" rx="7.6" ry="9.3"/><ellipse cx="835.5" cy="752.7" rx="7.6" ry="9.3"/><ellipse cx="846.4" cy="751.8" rx="7.6" ry="9.3"/><ellipse cx="839.1" cy="760" rx="7.6" ry="9.3"/><ellipse cx="831.8" cy="780" rx="7.6" ry="9.3"/><ellipse cx="850.9" cy="777.3" rx="7.6" ry="9.3"/><ellipse cx="846.4" cy="778.2" rx="7.6" ry="9.3"/></g>
<g fill="#e6b03a" fill-opacity="0.5"><ellipse cx="950.5" cy="597.3" rx="7.6" ry="9.3"/><ellipse cx="955.5" cy="607.3" rx="7.6" ry="9.3"/><ellipse cx="953.3" cy="618.2" rx="7.6" ry="9.3"/><ellipse cx="922.4" cy="672.7" rx="7.6" ry="9.3"/><ellipse cx="941.3" cy="665.5" rx="7.6" ry="9.3"/><ellipse cx="957.6" cy="671.8" rx="7.6" ry="9.3"/><ellipse cx="936.4" cy="675.5" rx="7.6" ry="9.3"/><ellipse cx="940.5" cy="695.5" rx="7.6" ry="9.3"/><ellipse cx="932.4" cy="727.3" rx="7.6" ry="9.3"/><ellipse cx="928.2" cy="736.4" rx="7.6" ry="9.3"/><ellipse cx="937.3" cy="733.6" rx="7.6" ry="9.3"/><ellipse cx="945.5" cy="734.5" rx="7.6" ry="9.3"/><ellipse cx="938.2" cy="744.5" rx="7.6" ry="9.3"/><ellipse cx="922.4" cy="774.5" rx="7.6" ry="9.3"/><ellipse cx="935.5" cy="780" rx="7.6" ry="9.3"/><ellipse cx="923.6" cy="784.5" rx="7.6" ry="9.3"/><ellipse cx="932.7" cy="790" rx="7.6" ry="9.3"/><ellipse cx="923.6" cy="804" rx="7.6" ry="9.3"/></g>
<g fill="none" stroke="#1a1496" stroke-width="4.8"><rect x="630.7" y="722.2" width="38.6" height="56.9"/><line x1="630.7" y1="770" x2="669.3" y2="770"/><line x1="650" y1="707.3" x2="650" y2="722.2"/><line x1="650" y1="779.1" x2="650" y2="799.1"/></g>
<g fill="none" stroke="#c81e1e" stroke-width="4.8"><rect x="728" y="756.7" width="38.6" height="20.6"/><line x1="728" y1="768.2" x2="766.6" y2="768.2"/><line x1="747.3" y1="750.9" x2="747.3" y2="756.7"/><line x1="747.3" y1="777.3" x2="747.3" y2="796.4"/></g>
<g fill="none" stroke="#449a8f" stroke-width="4.8"><rect x="824.9" y="706.4" width="38.6" height="50"/><line x1="824.9" y1="732.7" x2="863.5" y2="732.7"/><line x1="844.2" y1="656.4" x2="844.2" y2="706.4"/><line x1="844.2" y1="756.4" x2="844.2" y2="779.1"/></g>
<g fill="none" stroke="#eab24e" stroke-width="4.8"><rect x="922" y="673.1" width="38.6" height="101.4"/><line x1="922" y1="715.7" x2="960.6" y2="715.7"/><line x1="941.3" y1="599.1" x2="941.3" y2="673.1"/><line x1="941.3" y1="774.5" x2="941.3" y2="803.6"/></g>
<path d="M679.1,845 L679.1,661.8 679.1,661.8 679.2,663.8 679.2,665.8 679.3,667.8 679.3,669.8 679.4,671.8 679.6,673.8 679.7,675.8 679.9,677.8 680.0,679.8 680.2,681.8 680.4,683.8 680.7,685.8 681.0,687.8 681.4,689.8 681.9,691.8 682.4,693.8 682.9,695.8 683.5,697.8 684.0,699.8 684.7,701.8 685.3,703.8 686.0,705.8 686.6,707.8 687.2,709.8 687.7,711.8 688.0,713.8 688.2,715.8 688.2,717.8 687.9,719.8 687.6,721.8 687.0,723.8 686.5,725.8 685.8,727.8 685.2,729.8 684.5,731.8 683.9,733.8 683.3,735.8 682.9,737.8 682.7,739.8 682.7,741.8 683.0,743.8 683.5,745.8 684.1,747.8 684.9,749.8 685.7,751.8 686.5,753.8 687.5,755.8 688.5,757.8 689.6,759.8 690.8,761.8 692.0,763.8 693.1,765.8 694.2,767.8 695.1,769.8 695.8,771.8 696.2,773.8 696.4,775.8 696.3,777.8 696.0,779.8 695.4,781.8 694.7,783.8 693.9,785.8 693.0,787.8 692.1,789.8 691.2,791.8 690.3,793.8 689.3,795.8 688.3,797.8 687.3,799.8 686.3,801.8 685.3,803.8 684.2,805.8 683.2,807.8 682.2,809.8 681.2,811.8 680.4,813.8 679.8,815.8 679.4,817.8 679.2,819.8 679.1,821.8 679.1,823.8 679.1,825.8 679.1,827.8 679.1,829.8 679.1,831.8 679.1,833.8 679.1,835.8 679.1,837.8 679.1,839.8 679.1,841.8 679.1,843.8 679.1,845.0" fill="none" stroke="#1a1496" stroke-width="4.3" stroke-linecap="round" stroke-linejoin="round"/>
<path d="M775.8,819.1 L775.8,693.1 776.0,693.1 776.2,695.1 776.5,697.1 776.9,699.1 777.5,701.1 778.3,703.1 779.4,705.1 780.8,707.1 782.3,709.1 783.8,711.1 785.1,713.1 785.9,715.1 786.0,717.1 785.4,719.1 784.4,721.1 783.2,723.1 781.9,725.1 780.8,727.1 779.9,729.1 779.4,731.1 779.1,733.1 779.1,735.1 779.5,737.1 780.1,739.1 781.0,741.1 782.2,743.1 783.5,745.1 785.0,747.1 786.8,749.1 788.7,751.1 790.9,753.1 793.0,755.1 795.1,757.1 797.0,759.1 798.7,761.1 800.0,763.1 801.1,765.1 801.7,767.1 801.8,769.1 801.4,771.1 800.4,773.1 798.9,775.1 796.8,777.1 794.4,779.1 791.8,781.1 789.4,783.1 787.5,785.1 786.3,787.1 785.4,789.1 784.7,791.1 783.8,793.1 782.7,795.1 781.4,797.1 780.0,799.1 778.7,801.1 777.6,803.1 776.8,805.1 776.3,807.1 776.0,809.1 775.9,811.1 775.8,813.1 775.8,815.1 775.8,817.1 775.8,819.1 775.8,819.1" fill="none" stroke="#c81e1e" stroke-width="4.3" stroke-linecap="round" stroke-linejoin="round"/>
<path d="M873.1,835.5 L873.1,600 873.2,600.0 873.2,602.0 873.3,604.0 873.4,606.0 873.5,608.0 873.7,610.0 873.8,612.0 873.9,614.0 874.1,616.0 874.2,618.0 874.3,620.0 874.5,622.0 874.6,624.0 874.8,626.0 874.9,628.0 875.1,630.0 875.3,632.0 875.5,634.0 875.6,636.0 875.8,638.0 876.0,640.0 876.3,642.0 876.5,644.0 876.7,646.0 876.9,648.0 877.1,650.0 877.3,652.0 877.5,654.0 877.7,656.0 877.9,658.0 878.1,660.0 878.3,662.0 878.5,664.0 878.6,666.0 878.8,668.0 878.9,670.0 879.0,672.0 879.1,674.0 879.1,676.0 879.1,678.0 879.1,680.0 879.1,682.0 879.1,684.0 879.1,686.0 879.1,688.0 879.1,690.0 879.1,692.0 879.1,694.0 879.1,696.0 879.1,698.0 879.1,700.0 879.2,702.0 879.2,704.0 879.4,706.0 879.6,708.0 879.8,710.0 880.0,712.0 880.3,714.0 880.6,716.0 880.9,718.0 881.2,720.0 881.5,722.0 881.9,724.0 882.3,726.0 882.8,728.0 883.3,730.0 883.8,732.0 884.4,734.0 885.0,736.0 885.6,738.0 886.2,740.0 886.8,742.0 887.3,744.0 887.7,746.0 888.0,748.0 888.2,750.0 888.2,752.0 888.1,754.0 887.8,756.0 887.3,758.0 886.7,760.0 886.1,762.0 885.4,764.0 884.6,766.0 883.9,768.0 883.1,770.0 882.4,772.0 881.6,774.0 880.8,776.0 880.0,778.0 879.2,780.0 878.5,782.0 877.7,784.0 876.9,786.0 876.1,788.0 875.3,790.0 874.6,792.0 874.0,794.0 873.6,796.0 873.3,798.0 873.2,800.0 873.1,802.0 873.1,804.0 873.1,806.0 873.1,808.0 873.1,810.0 873.1,812.0 873.1,814.0 873.1,816.0 873.1,818.0 873.1,820.0 873.1,822.0 873.1,824.0 873.1,826.0 873.1,828.0 873.1,830.0 873.1,832.0 873.1,834.0 873.1,835.5" fill="none" stroke="#449a8f" stroke-width="4.3" stroke-linecap="round" stroke-linejoin="round"/>
<path d="M970,847 L970,506 970.0,506.0 970.1,508.0 970.1,510.0 970.2,512.0 970.2,514.0 970.3,516.0 970.3,518.0 970.4,520.0 970.4,522.0 970.5,524.0 970.5,526.0 970.6,528.0 970.6,530.0 970.7,532.0 970.7,534.0 970.8,536.0 970.9,538.0 970.9,540.0 971.0,542.0 971.0,544.0 971.1,546.0 971.1,548.0 971.2,550.0 971.2,552.0 971.3,554.0 971.3,556.0 971.4,558.0 971.4,560.0 971.5,562.0 971.6,564.0 971.6,566.0 971.7,568.0 971.7,570.0 971.8,572.0 971.8,574.0 971.9,576.0 971.9,578.0 972.0,580.0 972.1,582.0 972.1,584.0 972.2,586.0 972.2,588.0 972.3,590.0 972.3,592.0 972.4,594.0 972.4,596.0 972.5,598.0 972.5,600.0 972.6,602.0 972.6,604.0 972.7,606.0 972.8,608.0 972.8,610.0 972.9,612.0 972.9,614.0 973.0,616.0 973.0,618.0 973.1,620.0 973.1,622.0 973.2,624.0 973.3,626.0 973.3,628.0 973.4,630.0 973.4,632.0 973.5,634.0 973.5,636.0 973.6,638.0 973.7,640.0 973.7,642.0 973.8,644.0 973.9,646.0 973.9,648.0 974.0,650.0 974.1,652.0 974.1,654.0 974.2,656.0 974.3,658.0 974.4,660.0 974.5,662.0 974.6,664.0 974.7,666.0 974.8,668.0 974.9,670.0 975.0,672.0 975.1,674.0 975.2,676.0 975.3,678.0 975.5,680.0 975.6,682.0 975.7,684.0 975.8,686.0 975.9,688.0 976.0,690.0 976.1,692.0 976.2,694.0 976.3,696.0 976.4,698.0 976.5,700.0 976.6,702.0 976.7,704.0 976.8,706.0 976.9,708.0 976.9,710.0 977.0,712.0 977.1,714.0 977.1,716.0 977.2,718.0 977.2,720.0 977.3,722.0 977.3,724.0 977.3,726.0 977.3,728.0 977.3,730.0 977.3,732.0 977.3,734.0 977.2,736.0 977.2,738.0 977.1,740.0 977.1,742.0 977.0,744.0 976.9,746.0 976.8,748.0 976.7,750.0 976.6,752.0 976.5,754.0 976.4,756.0 976.3,758.0 976.2,760.0 976.1,762.0 976.0,764.0 975.9,766.0 975.7,768.0 975.6,770.0 975.5,772.0 975.4,774.0 975.2,776.0 975.1,778.0 975.0,780.0 974.9,782.0 974.8,784.0 974.6,786.0 974.5,788.0 974.3,790.0 974.2,792.0 974.0,794.0 973.9,796.0 973.7,798.0 973.6,800.0 973.4,802.0 973.3,804.0 973.1,806.0 972.9,808.0 972.8,810.0 972.6,812.0 972.5,814.0 972.3,816.0 972.2,818.0 972.0,820.0 971.8,822.0 971.7,824.0 971.6,826.0 971.4,828.0 971.3,830.0 971.1,832.0 971.0,834.0 970.8,836.0 970.7,838.0 970.5,840.0 970.4,842.0 970.3,844.0 970.2,846.0 970.0,847.0" fill="none" stroke="#eab24e" stroke-width="4.3" stroke-linecap="round" stroke-linejoin="round"/>
<line x1="856" y1="508.2" x2="960.5" y2="508.2" stroke="#1a1a1a" stroke-width="2.4"/>
<text transform="translate(908.5 495.4)" y="17.42" font-size="33.5" text-anchor="middle" letter-spacing="0.9" stroke="#000" stroke-width="0.3">***</text>
<rect x="591.9" y="466" width="407.5" height="380.2" fill="none" stroke="#000" stroke-width="2.3"/>
<line x1="585.7" y1="562.3" x2="591.9" y2="562.3" stroke="#222" stroke-width="2"/>
<text font-size="25" text-anchor="end" stroke="#000" stroke-width="0.3" transform="translate(584.9 569.4) scale(0.93 1)">1000</text>
<line x1="585.7" y1="626" x2="591.9" y2="626" stroke="#222" stroke-width="2"/>
<text font-size="25" text-anchor="end" stroke="#000" stroke-width="0.3" transform="translate(584.9 633.1) scale(0.93 1)">750</text>
<line x1="585.7" y1="689.4" x2="591.9" y2="689.4" stroke="#222" stroke-width="2"/>
<text font-size="25" text-anchor="end" stroke="#000" stroke-width="0.3" transform="translate(584.9 696.5) scale(0.93 1)">500</text>
<line x1="585.7" y1="752.8" x2="591.9" y2="752.8" stroke="#222" stroke-width="2"/>
<text font-size="25" text-anchor="end" stroke="#000" stroke-width="0.3" transform="translate(584.9 759.9) scale(0.93 1)">250</text>
<line x1="585.7" y1="816.2" x2="591.9" y2="816.2" stroke="#222" stroke-width="2"/>
<text font-size="25" text-anchor="end" stroke="#000" stroke-width="0.3" transform="translate(584.9 823.3) scale(0.93 1)">0</text>
<text font-size="24.8" text-anchor="end" stroke="#000" stroke-width="0.3" transform="translate(683 866.3) rotate(-20)">Conven_Amb</text>
<text font-size="24.8" text-anchor="end" stroke="#000" stroke-width="0.3" transform="translate(787.2 866.8) rotate(-20)">Conven_Warm</text>
<text font-size="24.8" text-anchor="end" stroke="#000" stroke-width="0.3" transform="translate(884.7 866.8) rotate(-20)">Conserv_Amb</text>
<text font-size="24.8" text-anchor="end" stroke="#000" stroke-width="0.3" transform="translate(980 866.5) rotate(-20)">Conserv_Warm</text>
<text font-size="26.5" text-anchor="middle" stroke="#000" stroke-width="0.3" transform="translate(527 649) rotate(-90)">MBC (mg C kg<tspan font-size="14.5" dy="-9.3">-1</tspan><tspan dy="9.3">)</tspan></text>
<text x="521.3" y="491.9" font-size="30" stroke="#000" stroke-width="0.3">(e)</text>
</g>
<g id="pf">
<g fill="#0d1789" fill-opacity="0.5"><ellipse cx="1134.2" cy="756.7" rx="7.6" ry="7.6"/><ellipse cx="1145.5" cy="754.9" rx="7.6" ry="7.6"/><ellipse cx="1157.3" cy="755.5" rx="7.6" ry="7.6"/><ellipse cx="1157.6" cy="760" rx="7.6" ry="7.6"/><ellipse cx="1168.5" cy="774.2" rx="7.6" ry="7.6"/><ellipse cx="1147.3" cy="773.6" rx="7.6" ry="7.6"/><ellipse cx="1134.5" cy="779.1" rx="7.6" ry="7.6"/><ellipse cx="1162.7" cy="780.9" rx="7.6" ry="7.6"/><ellipse cx="1142.7" cy="783.6" rx="7.6" ry="7.6"/><ellipse cx="1133.6" cy="794.5" rx="7.6" ry="7.6"/><ellipse cx="1140.9" cy="794.5" rx="7.6" ry="7.6"/><ellipse cx="1157.3" cy="796.4" rx="7.6" ry="7.6"/><ellipse cx="1152.7" cy="790.9" rx="7.6" ry="7.6"/><ellipse cx="1132.7" cy="802.4" rx="7.6" ry="7.6"/><ellipse cx="1146" cy="782" rx="7.6" ry="7.6"/><ellipse cx="1156" cy="785" rx="7.6" ry="7.6"/><ellipse cx="1139" cy="786" rx="7.6" ry="7.6"/></g>
<g fill="#b8001a" fill-opacity="0.5"><ellipse cx="1247.6" cy="756.4" rx="7.6" ry="7.6"/><ellipse cx="1254.5" cy="763.6" rx="7.6" ry="7.6"/><ellipse cx="1228.2" cy="769.1" rx="7.6" ry="7.6"/><ellipse cx="1240.9" cy="770" rx="7.6" ry="7.6"/><ellipse cx="1260" cy="768.2" rx="7.6" ry="7.6"/><ellipse cx="1265.5" cy="772.7" rx="7.6" ry="7.6"/><ellipse cx="1233.6" cy="778.2" rx="7.6" ry="7.6"/><ellipse cx="1250" cy="776.4" rx="7.6" ry="7.6"/><ellipse cx="1259.1" cy="783.6" rx="7.6" ry="7.6"/><ellipse cx="1227.3" cy="791.8" rx="7.6" ry="7.6"/><ellipse cx="1253.6" cy="794.5" rx="7.6" ry="7.6"/><ellipse cx="1259.1" cy="798.2" rx="7.6" ry="7.6"/><ellipse cx="1255.5" cy="800" rx="7.6" ry="7.6"/><ellipse cx="1242.7" cy="808.2" rx="7.6" ry="7.6"/><ellipse cx="1244.5" cy="811.8" rx="7.6" ry="7.6"/><ellipse cx="1240" cy="784" rx="7.6" ry="7.6"/><ellipse cx="1248" cy="781" rx="7.6" ry="7.6"/><ellipse cx="1236" cy="788" rx="7.6" ry="7.6"/><ellipse cx="1262" cy="780" rx="7.6" ry="7.6"/></g>
<g fill="#2aa08f" fill-opacity="0.5"><ellipse cx="1340.4" cy="581.5" rx="7.6" ry="7.6"/><ellipse cx="1362.4" cy="591.8" rx="7.6" ry="7.6"/><ellipse cx="1335.5" cy="598.2" rx="7.6" ry="7.6"/><ellipse cx="1326.4" cy="610" rx="7.6" ry="7.6"/><ellipse cx="1353.6" cy="612.7" rx="7.6" ry="7.6"/><ellipse cx="1324.5" cy="612.7" rx="7.6" ry="7.6"/><ellipse cx="1337.3" cy="618.2" rx="7.6" ry="7.6"/><ellipse cx="1350" cy="620" rx="7.6" ry="7.6"/><ellipse cx="1328.2" cy="625.5" rx="7.6" ry="7.6"/><ellipse cx="1359.1" cy="627.3" rx="7.6" ry="7.6"/><ellipse cx="1344.5" cy="630.9" rx="7.6" ry="7.6"/><ellipse cx="1360.9" cy="634.5" rx="7.6" ry="7.6"/><ellipse cx="1333.6" cy="641.8" rx="7.6" ry="7.6"/><ellipse cx="1355.5" cy="644.5" rx="7.6" ry="7.6"/><ellipse cx="1329.1" cy="647.3" rx="7.6" ry="7.6"/><ellipse cx="1332.7" cy="650.9" rx="7.6" ry="7.6"/><ellipse cx="1345.5" cy="640" rx="7.6" ry="7.6"/></g>
<g fill="#e6b03a" fill-opacity="0.5"><ellipse cx="1436.4" cy="556.4" rx="7.6" ry="7.6"/><ellipse cx="1456.4" cy="556.4" rx="7.6" ry="7.6"/><ellipse cx="1431.8" cy="561.8" rx="7.6" ry="7.6"/><ellipse cx="1447.3" cy="567.3" rx="7.6" ry="7.6"/><ellipse cx="1456.4" cy="570" rx="7.6" ry="7.6"/><ellipse cx="1433.6" cy="578.2" rx="7.6" ry="7.6"/><ellipse cx="1444.5" cy="583.6" rx="7.6" ry="7.6"/><ellipse cx="1435.5" cy="587.3" rx="7.6" ry="7.6"/><ellipse cx="1448.2" cy="589.1" rx="7.6" ry="7.6"/><ellipse cx="1451.8" cy="592.7" rx="7.6" ry="7.6"/><ellipse cx="1439.1" cy="598.2" rx="7.6" ry="7.6"/><ellipse cx="1450" cy="609.1" rx="7.6" ry="7.6"/><ellipse cx="1421.8" cy="617.3" rx="7.6" ry="7.6"/><ellipse cx="1435.5" cy="618.2" rx="7.6" ry="7.6"/><ellipse cx="1446.4" cy="621.8" rx="7.6" ry="7.6"/><ellipse cx="1426.4" cy="625.5" rx="7.6" ry="7.6"/><ellipse cx="1430" cy="630.9" rx="7.6" ry="7.6"/><ellipse cx="1446.4" cy="634.5" rx="7.6" ry="7.6"/><ellipse cx="1440.9" cy="647.3" rx="7.6" ry="7.6"/><ellipse cx="1455.1" cy="645.5" rx="7.6" ry="7.6"/></g>
<g fill="none" stroke="#1a1496" stroke-width="4.8"><rect x="1130.2" y="775.5" width="38.6" height="13.6"/><line x1="1130.2" y1="782.7" x2="1168.8" y2="782.7"/><line x1="1149.5" y1="760.9" x2="1149.5" y2="775.5"/><line x1="1149.5" y1="789.1" x2="1149.5" y2="801.8"/></g>
<g fill="none" stroke="#c81e1e" stroke-width="4.8"><rect x="1227.1" y="773.6" width="38.6" height="17.3"/><line x1="1227.1" y1="780" x2="1265.7" y2="780"/><line x1="1246.4" y1="759.1" x2="1246.4" y2="773.6"/><line x1="1246.4" y1="790.9" x2="1246.4" y2="810.9"/></g>
<g fill="none" stroke="#449a8f" stroke-width="4.8"><rect x="1324.3" y="613.6" width="38.6" height="20.9"/><line x1="1324.3" y1="622.7" x2="1362.9" y2="622.7"/><line x1="1343.6" y1="581.8" x2="1343.6" y2="613.6"/><line x1="1343.6" y1="634.5" x2="1343.6" y2="650"/></g>
<g fill="none" stroke="#eab24e" stroke-width="4.8"><rect x="1421.1" y="575.5" width="38.6" height="44.5"/><line x1="1421.1" y1="596.4" x2="1459.7" y2="596.4"/><line x1="1440.4" y1="557.3" x2="1440.4" y2="575.5"/><line x1="1440.4" y1="620" x2="1440.4" y2="646.4"/></g>
<path d="M1178.5,815.5 L1178.5,742.7 1178.7,742.7 1179.0,744.7 1179.8,746.7 1181.3,748.7 1183.4,750.7 1185.8,752.7 1187.5,754.7 1188.0,756.7 1187.0,758.7 1185.0,760.7 1183.0,762.7 1181.8,764.7 1181.8,766.7 1183.2,768.7 1186.0,770.7 1189.8,772.7 1194.3,774.7 1198.9,776.7 1202.4,778.7 1203.7,780.7 1202.3,782.7 1198.9,784.7 1195.0,786.7 1192.2,788.7 1191.0,790.7 1190.5,792.7 1189.8,794.7 1188.3,796.7 1186.2,798.7 1183.8,800.7 1181.8,802.7 1180.2,804.7 1179.3,806.7 1178.8,808.7 1178.6,810.7 1178.5,812.7 1178.5,814.7 1178.5,815.5" fill="none" stroke="#1a1496" stroke-width="4.3" stroke-linecap="round" stroke-linejoin="round"/>
<path d="M1275.5,830.9 L1275.5,739.1 1275.6,739.1 1275.8,741.1 1276.0,743.1 1276.3,745.1 1276.7,747.1 1277.2,749.1 1277.9,751.1 1278.6,753.1 1279.5,755.1 1280.6,757.1 1281.7,759.1 1282.9,761.1 1284.2,763.1 1285.6,765.1 1287.0,767.1 1288.3,769.1 1289.6,771.1 1290.7,773.1 1291.5,775.1 1292.1,777.1 1292.2,779.1 1292.0,781.1 1291.6,783.1 1290.8,785.1 1290.0,787.1 1289.0,789.1 1287.9,791.1 1286.8,793.1 1285.6,795.1 1284.4,797.1 1283.3,799.1 1282.2,801.1 1281.1,803.1 1280.0,805.1 1278.9,807.1 1278.0,809.1 1277.1,811.1 1276.4,813.1 1276.0,815.1 1275.7,817.1 1275.6,819.1 1275.5,821.1 1275.5,823.1 1275.5,825.1 1275.5,827.1 1275.5,829.1 1275.5,830.9" fill="none" stroke="#c81e1e" stroke-width="4.3" stroke-linecap="round" stroke-linejoin="round"/>
<path d="M1372.7,673.6 L1372.7,558.2 1372.7,558.2 1372.8,560.2 1372.8,562.2 1372.9,564.2 1373.0,566.2 1373.1,568.2 1373.3,570.2 1373.4,572.2 1373.6,574.2 1373.8,576.2 1374.0,578.2 1374.2,580.2 1374.5,582.2 1374.8,584.2 1375.1,586.2 1375.5,588.2 1375.9,590.2 1376.3,592.2 1376.8,594.2 1377.4,596.2 1378.1,598.2 1378.9,600.2 1379.8,602.2 1380.7,604.2 1381.8,606.2 1382.8,608.2 1383.8,610.2 1384.8,612.2 1385.7,614.2 1386.5,616.2 1387.0,618.2 1387.3,620.2 1387.3,622.2 1387.1,624.2 1386.6,626.2 1386.0,628.2 1385.4,630.2 1384.6,632.2 1383.8,634.2 1383.0,636.2 1382.2,638.2 1381.3,640.2 1380.4,642.2 1379.5,644.2 1378.6,646.2 1377.8,648.2 1377.0,650.2 1376.2,652.2 1375.5,654.2 1374.8,656.2 1374.1,658.2 1373.6,660.2 1373.2,662.2 1372.9,664.2 1372.8,666.2 1372.7,668.2 1372.7,670.2 1372.7,672.2 1372.7,673.6" fill="none" stroke="#449a8f" stroke-width="4.3" stroke-linecap="round" stroke-linejoin="round"/>
<path d="M1469.6,687.3 L1469.6,517.3 1469.7,517.3 1469.8,519.3 1469.8,521.3 1469.9,523.3 1470.1,525.3 1470.2,527.3 1470.3,529.3 1470.5,531.3 1470.6,533.3 1470.8,535.3 1470.9,537.3 1471.1,539.3 1471.3,541.3 1471.4,543.3 1471.6,545.3 1471.8,547.3 1472.0,549.3 1472.2,551.3 1472.5,553.3 1472.7,555.3 1473.0,557.3 1473.2,559.3 1473.5,561.3 1473.7,563.3 1474.0,565.3 1474.2,567.3 1474.4,569.3 1474.7,571.3 1474.9,573.3 1475.1,575.3 1475.4,577.3 1475.6,579.3 1475.8,581.3 1476.0,583.3 1476.3,585.3 1476.5,587.3 1476.7,589.3 1476.9,591.3 1477.0,593.3 1477.1,595.3 1477.2,597.3 1477.3,599.3 1477.3,601.3 1477.3,603.3 1477.3,605.3 1477.3,607.3 1477.2,609.3 1477.2,611.3 1477.1,613.3 1477.0,615.3 1477.0,617.3 1476.9,619.3 1476.8,621.3 1476.7,623.3 1476.6,625.3 1476.4,627.3 1476.3,629.3 1476.1,631.3 1475.9,633.3 1475.6,635.3 1475.4,637.3 1475.1,639.3 1474.8,641.3 1474.6,643.3 1474.3,645.3 1474.0,647.3 1473.7,649.3 1473.4,651.3 1473.1,653.3 1472.8,655.3 1472.5,657.3 1472.2,659.3 1471.9,661.3 1471.6,663.3 1471.4,665.3 1471.1,667.3 1470.9,669.3 1470.7,671.3 1470.5,673.3 1470.3,675.3 1470.2,677.3 1470.0,679.3 1469.9,681.3 1469.8,683.3 1469.7,685.3 1469.7,687.3 1469.6,687.3" fill="none" stroke="#eab24e" stroke-width="4.3" stroke-linecap="round" stroke-linejoin="round"/>
<line x1="1352.7" y1="512.7" x2="1456.7" y2="512.7" stroke="#1a1a1a" stroke-width="2.4"/>
<text transform="translate(1406.4 503.2)" y="17.42" font-size="33.5" text-anchor="middle" letter-spacing="0.9" stroke="#000" stroke-width="0.3">***</text>
<rect x="1091.4" y="466" width="407.3" height="380" fill="none" stroke="#000" stroke-width="2.3"/>
<line x1="1085.2" y1="568.2" x2="1091.4" y2="568.2" stroke="#222" stroke-width="2"/>
<text font-size="25" text-anchor="end" stroke="#000" stroke-width="0.3" transform="translate(1084.4 575.3) scale(0.93 1)">14</text>
<line x1="1085.2" y1="651.3" x2="1091.4" y2="651.3" stroke="#222" stroke-width="2"/>
<text font-size="25" text-anchor="end" stroke="#000" stroke-width="0.3" transform="translate(1084.4 658.4) scale(0.93 1)">12</text>
<line x1="1085.2" y1="734.1" x2="1091.4" y2="734.1" stroke="#222" stroke-width="2"/>
<text font-size="25" text-anchor="end" stroke="#000" stroke-width="0.3" transform="translate(1084.4 741.2) scale(0.93 1)">10</text>
<line x1="1085.2" y1="817.5" x2="1091.4" y2="817.5" stroke="#222" stroke-width="2"/>
<text font-size="25" text-anchor="end" stroke="#000" stroke-width="0.3" transform="translate(1084.4 824.6) scale(0.93 1)">8</text>
<text font-size="24.8" text-anchor="end" stroke="#000" stroke-width="0.3" transform="translate(1193.75 865.5) rotate(-20)">Conven_Amb</text>
<text font-size="24.8" text-anchor="end" stroke="#000" stroke-width="0.3" transform="translate(1297.5 866) rotate(-20)">Conven_Warm</text>
<text font-size="24.8" text-anchor="end" stroke="#000" stroke-width="0.3" transform="translate(1395 866) rotate(-20)">Conserv_Amb</text>
<text font-size="24.8" text-anchor="end" stroke="#000" stroke-width="0.3" transform="translate(1500.2 866.2) rotate(-20)">Conserv_Warm</text>
<text font-size="26.5" text-anchor="middle" stroke="#000" stroke-width="0.3" transform="translate(1044.8 656.7) rotate(-90)">SOC (g C kg<tspan font-size="14.5" dy="-9.3">-1</tspan><tspan dy="9.3">)</tspan></text>
<text x="1031.8" y="491.9" font-size="30" stroke="#000" stroke-width="0.3">(f)</text>
</g>
<g id="pg">
<g fill="#0d1789" fill-opacity="0.5"><ellipse cx="1624.2" cy="706.4" rx="7.1" ry="7.1"/><ellipse cx="1634.5" cy="705.8" rx="7.1" ry="7.1"/><ellipse cx="1646.9" cy="705.8" rx="7.1" ry="7.1"/><ellipse cx="1660" cy="709.1" rx="7.1" ry="7.1"/><ellipse cx="1629.1" cy="714.5" rx="7.1" ry="7.1"/><ellipse cx="1640" cy="716.4" rx="7.1" ry="7.1"/><ellipse cx="1648.2" cy="716.4" rx="7.1" ry="7.1"/><ellipse cx="1662.7" cy="713.6" rx="7.1" ry="7.1"/><ellipse cx="1645.5" cy="751.8" rx="7.1" ry="7.1"/><ellipse cx="1660.9" cy="751.8" rx="7.1" ry="7.1"/><ellipse cx="1636.4" cy="761.8" rx="7.1" ry="7.1"/><ellipse cx="1652.7" cy="761.8" rx="7.1" ry="7.1"/><ellipse cx="1624.2" cy="774.2" rx="7.1" ry="7.1"/><ellipse cx="1632.7" cy="774.2" rx="7.1" ry="7.1"/><ellipse cx="1638.2" cy="774.5" rx="7.1" ry="7.1"/><ellipse cx="1648.2" cy="774.5" rx="7.1" ry="7.1"/><ellipse cx="1661.3" cy="774.2" rx="7.1" ry="7.1"/></g>
<g fill="#b8001a" fill-opacity="0.5"><ellipse cx="1730.9" cy="678.2" rx="7.1" ry="7.1"/><ellipse cx="1758.5" cy="677.8" rx="7.1" ry="7.1"/><ellipse cx="1758.5" cy="677.8" rx="7.1" ry="7.1"/><ellipse cx="1733.6" cy="694.5" rx="7.1" ry="7.1"/><ellipse cx="1748.2" cy="694.5" rx="7.1" ry="7.1"/><ellipse cx="1759.1" cy="694.5" rx="7.1" ry="7.1"/><ellipse cx="1754.5" cy="698.2" rx="7.1" ry="7.1"/><ellipse cx="1720.9" cy="706.4" rx="7.1" ry="7.1"/><ellipse cx="1740" cy="707.3" rx="7.1" ry="7.1"/><ellipse cx="1753.6" cy="707.3" rx="7.1" ry="7.1"/><ellipse cx="1723.6" cy="735.5" rx="7.1" ry="7.1"/><ellipse cx="1743.6" cy="735.5" rx="7.1" ry="7.1"/><ellipse cx="1750" cy="736.4" rx="7.1" ry="7.1"/><ellipse cx="1728.2" cy="747.3" rx="7.1" ry="7.1"/><ellipse cx="1759.1" cy="747.3" rx="7.1" ry="7.1"/><ellipse cx="1754.5" cy="745.5" rx="7.1" ry="7.1"/><ellipse cx="1733.6" cy="759.1" rx="7.1" ry="7.1"/><ellipse cx="1754.5" cy="759.1" rx="7.1" ry="7.1"/><ellipse cx="1741.8" cy="760" rx="7.1" ry="7.1"/><ellipse cx="1726.4" cy="767.3" rx="7.1" ry="7.1"/><ellipse cx="1745.5" cy="767.3" rx="7.1" ry="7.1"/></g>
<g fill="#2aa08f" fill-opacity="0.5"><ellipse cx="1856" cy="565.5" rx="7.1" ry="7.1"/><ellipse cx="1832.7" cy="566.4" rx="7.1" ry="7.1"/><ellipse cx="1840" cy="565.5" rx="7.1" ry="7.1"/><ellipse cx="1828.2" cy="570.9" rx="7.1" ry="7.1"/><ellipse cx="1845.5" cy="569.1" rx="7.1" ry="7.1"/><ellipse cx="1851.8" cy="574.5" rx="7.1" ry="7.1"/><ellipse cx="1819.1" cy="578.2" rx="7.1" ry="7.1"/><ellipse cx="1825.5" cy="577.3" rx="7.1" ry="7.1"/><ellipse cx="1840" cy="578.2" rx="7.1" ry="7.1"/><ellipse cx="1817.3" cy="601.8" rx="7.1" ry="7.1"/><ellipse cx="1823.6" cy="604.5" rx="7.1" ry="7.1"/><ellipse cx="1830" cy="605.5" rx="7.1" ry="7.1"/><ellipse cx="1843.6" cy="608.2" rx="7.1" ry="7.1"/><ellipse cx="1834.5" cy="620" rx="7.1" ry="7.1"/><ellipse cx="1844.5" cy="620" rx="7.1" ry="7.1"/><ellipse cx="1827.3" cy="640" rx="7.1" ry="7.1"/><ellipse cx="1851.8" cy="640" rx="7.1" ry="7.1"/><ellipse cx="1856.4" cy="640" rx="7.1" ry="7.1"/></g>
<g fill="#e6b03a" fill-opacity="0.5"><ellipse cx="1918.2" cy="548.2" rx="7.1" ry="7.1"/><ellipse cx="1923.6" cy="547.3" rx="7.1" ry="7.1"/><ellipse cx="1931.8" cy="548.2" rx="7.1" ry="7.1"/><ellipse cx="1936.4" cy="553.6" rx="7.1" ry="7.1"/><ellipse cx="1944.5" cy="552.7" rx="7.1" ry="7.1"/><ellipse cx="1940" cy="559.1" rx="7.1" ry="7.1"/><ellipse cx="1942.7" cy="564.5" rx="7.1" ry="7.1"/><ellipse cx="1917.3" cy="564.5" rx="7.1" ry="7.1"/><ellipse cx="1920" cy="595.5" rx="7.1" ry="7.1"/><ellipse cx="1929.1" cy="594.5" rx="7.1" ry="7.1"/><ellipse cx="1938.2" cy="595.5" rx="7.1" ry="7.1"/><ellipse cx="1946.4" cy="594.5" rx="7.1" ry="7.1"/><ellipse cx="1918.5" cy="609.1" rx="7.1" ry="7.1"/><ellipse cx="1937.8" cy="609.1" rx="7.1" ry="7.1"/><ellipse cx="1931.8" cy="642.7" rx="7.1" ry="7.1"/><ellipse cx="1941.8" cy="642.7" rx="7.1" ry="7.1"/><ellipse cx="1948.7" cy="642.7" rx="7.1" ry="7.1"/></g>
<g fill="none" stroke="#1a1496" stroke-width="4.8"><rect x="1625" y="713.6" width="36.6" height="51.9"/><line x1="1625" y1="739.5" x2="1661.6" y2="739.5"/><line x1="1643.3" y1="707.3" x2="1643.3" y2="713.6"/><line x1="1643.3" y1="765.5" x2="1643.3" y2="772.7"/></g>
<g fill="none" stroke="#c81e1e" stroke-width="4.8"><rect x="1722.1" y="697.3" width="36.6" height="53.6"/><line x1="1722.1" y1="720.9" x2="1758.7" y2="720.9"/><line x1="1740.4" y1="679.1" x2="1740.4" y2="697.3"/><line x1="1740.4" y1="750.9" x2="1740.4" y2="764.5"/></g>
<g fill="none" stroke="#449a8f" stroke-width="4.8"><rect x="1819.2" y="573.3" width="36.6" height="38.2"/><line x1="1819.2" y1="595.5" x2="1855.8" y2="595.5"/><line x1="1837.5" y1="611.5" x2="1837.5" y2="640"/></g>
<g fill="none" stroke="#eab24e" stroke-width="4.8"><rect x="1916.2" y="556.9" width="36.6" height="44"/><line x1="1916.2" y1="584.5" x2="1952.8" y2="584.5"/><line x1="1934.5" y1="600.9" x2="1934.5" y2="641.8"/></g>
<path d="M1672.4,815.5 L1672.4,664.5 1672.4,664.5 1672.5,666.5 1672.6,668.5 1672.7,670.5 1672.8,672.5 1673.0,674.5 1673.3,676.5 1673.6,678.5 1674.0,680.5 1674.6,682.5 1675.3,684.5 1676.3,686.5 1677.6,688.5 1679.0,690.5 1680.5,692.5 1682.2,694.5 1683.9,696.5 1685.8,698.5 1687.7,700.5 1689.7,702.5 1691.6,704.5 1693.3,706.5 1694.5,708.5 1695.3,710.5 1695.5,712.5 1695.1,714.5 1694.2,716.5 1693.0,718.5 1691.5,720.5 1689.9,722.5 1688.3,724.5 1686.8,726.5 1685.4,728.5 1684.1,730.5 1682.9,732.5 1682.0,734.5 1681.3,736.5 1680.9,738.5 1680.9,740.5 1681.3,742.5 1681.9,744.5 1682.7,746.5 1683.6,748.5 1684.6,750.5 1685.7,752.5 1686.7,754.5 1687.8,756.5 1688.8,758.5 1689.8,760.5 1690.7,762.5 1691.4,764.5 1691.7,766.5 1691.8,768.5 1691.5,770.5 1690.8,772.5 1689.9,774.5 1688.7,776.5 1687.4,778.5 1686.1,780.5 1684.7,782.5 1683.4,784.5 1682.1,786.5 1680.7,788.5 1679.4,790.5 1678.1,792.5 1676.9,794.5 1675.7,796.5 1674.6,798.5 1673.7,800.5 1673.1,802.5 1672.7,804.5 1672.5,806.5 1672.4,808.5 1672.4,810.5 1672.4,812.5 1672.4,814.5 1672.4,815.5" fill="none" stroke="#1a1496" stroke-width="4.3" stroke-linecap="round" stroke-linejoin="round"/>
<path d="M1769.5,812.7 L1769.5,632.7 1769.5,632.7 1769.6,634.7 1769.6,636.7 1769.7,638.7 1769.9,640.7 1770.0,642.7 1770.2,644.7 1770.4,646.7 1770.6,648.7 1770.9,650.7 1771.1,652.7 1771.5,654.7 1771.8,656.7 1772.2,658.7 1772.7,660.7 1773.2,662.7 1773.8,664.7 1774.4,666.7 1775.1,668.7 1775.8,670.7 1776.6,672.7 1777.4,674.7 1778.3,676.7 1779.2,678.7 1780.3,680.7 1781.4,682.7 1782.6,684.7 1783.7,686.7 1784.8,688.7 1785.7,690.7 1786.5,692.7 1787.0,694.7 1787.3,696.7 1787.3,698.7 1786.9,700.7 1786.2,702.7 1785.3,704.7 1784.4,706.7 1783.4,708.7 1782.6,710.7 1781.9,712.7 1781.4,714.7 1781.1,716.7 1780.9,718.7 1780.9,720.7 1781.1,722.7 1781.5,724.7 1782.0,726.7 1782.5,728.7 1783.1,730.7 1783.7,732.7 1784.3,734.7 1784.9,736.7 1785.4,738.7 1785.9,740.7 1786.2,742.7 1786.4,744.7 1786.4,746.7 1786.2,748.7 1785.9,750.7 1785.4,752.7 1784.9,754.7 1784.3,756.7 1783.6,758.7 1783.0,760.7 1782.3,762.7 1781.5,764.7 1780.8,766.7 1780.0,768.7 1779.2,770.7 1778.3,772.7 1777.5,774.7 1776.6,776.7 1775.8,778.7 1775.0,780.7 1774.2,782.7 1773.4,784.7 1772.6,786.7 1771.8,788.7 1771.1,790.7 1770.5,792.7 1770.1,794.7 1769.8,796.7 1769.6,798.7 1769.5,800.7 1769.5,802.7 1769.5,804.7 1769.5,806.7 1769.5,808.7 1769.5,810.7 1769.5,812.7 1769.5,812.7" fill="none" stroke="#c81e1e" stroke-width="4.3" stroke-linecap="round" stroke-linejoin="round"/>
<path d="M1866.9,677.3 L1866.9,529.1 1867.0,529.1 1867.1,531.1 1867.3,533.1 1867.5,535.1 1867.8,537.1 1868.2,539.1 1868.7,541.1 1869.2,543.1 1869.9,545.1 1870.8,547.1 1871.9,549.1 1873.2,551.1 1874.7,553.1 1876.4,555.1 1878.1,557.1 1880.0,559.1 1882.0,561.1 1884.1,563.1 1886.3,565.1 1888.3,567.1 1890.0,569.1 1891.2,571.1 1891.8,573.1 1891.6,575.1 1890.7,577.1 1889.4,579.1 1887.7,581.1 1886.0,583.1 1884.5,585.1 1883.2,587.1 1882.2,589.1 1881.5,591.1 1881.1,593.1 1880.9,595.1 1881.0,597.1 1881.4,599.1 1882.0,601.1 1882.6,603.1 1883.1,605.1 1883.5,607.1 1883.6,609.1 1883.5,611.1 1883.1,613.1 1882.6,615.1 1881.9,617.1 1881.1,619.1 1880.4,621.1 1879.6,623.1 1878.9,625.1 1878.2,627.1 1877.5,629.1 1876.8,631.1 1876.1,633.1 1875.4,635.1 1874.8,637.1 1874.1,639.1 1873.5,641.1 1872.9,643.1 1872.2,645.1 1871.6,647.1 1871.0,649.1 1870.4,651.1 1869.8,653.1 1869.3,655.1 1868.8,657.1 1868.3,659.1 1867.9,661.1 1867.5,663.1 1867.3,665.1 1867.1,667.1 1867.0,669.1 1866.9,671.1 1866.9,673.1 1866.9,675.1 1866.9,677.1 1866.9,677.3" fill="none" stroke="#449a8f" stroke-width="4.3" stroke-linecap="round" stroke-linejoin="round"/>
<path d="M1963.6,689.1 L1963.6,502.7 1963.7,502.7 1963.7,504.7 1963.8,506.7 1964.0,508.7 1964.1,510.7 1964.4,512.7 1964.6,514.7 1964.9,516.7 1965.3,518.7 1965.8,520.7 1966.3,522.7 1967.0,524.7 1967.7,526.7 1968.6,528.7 1969.6,530.7 1970.6,532.7 1971.7,534.7 1972.8,536.7 1974.0,538.7 1975.4,540.7 1976.8,542.7 1978.2,544.7 1979.7,546.7 1981.2,548.7 1982.4,550.7 1983.4,552.7 1984.1,554.7 1984.5,556.7 1984.4,558.7 1984.0,560.7 1983.3,562.7 1982.4,564.7 1981.5,566.7 1980.6,568.7 1979.7,570.7 1979.0,572.7 1978.4,574.7 1977.8,576.7 1977.5,578.7 1977.3,580.7 1977.3,582.7 1977.6,584.7 1978.0,586.7 1978.6,588.7 1979.2,590.7 1979.7,592.7 1980.0,594.7 1980.0,596.7 1979.6,598.7 1979.0,600.7 1978.2,602.7 1977.3,604.7 1976.3,606.7 1975.3,608.7 1974.2,610.7 1973.3,612.7 1972.3,614.7 1971.4,616.7 1970.6,618.7 1969.9,620.7 1969.4,622.7 1969.1,624.7 1968.9,626.7 1968.8,628.7 1968.8,630.7 1968.7,632.7 1968.7,634.7 1968.7,636.7 1968.7,638.7 1968.6,640.7 1968.4,642.7 1968.2,644.7 1967.9,646.7 1967.5,648.7 1967.1,650.7 1966.7,652.7 1966.3,654.7 1965.9,656.7 1965.4,658.7 1965.0,660.7 1964.6,662.7 1964.3,664.7 1964.0,666.7 1963.8,668.7 1963.7,670.7 1963.6,672.7 1963.6,674.7 1963.6,676.7 1963.6,678.7 1963.6,680.7 1963.6,682.7 1963.6,684.7 1963.6,686.7 1963.6,688.7 1963.6,689.1" fill="none" stroke="#eab24e" stroke-width="4.3" stroke-linecap="round" stroke-linejoin="round"/>
<line x1="1652.4" y1="616" x2="1755.5" y2="616" stroke="#1a1a1a" stroke-width="2.4"/>
<text transform="translate(1702.6 607.1)" y="17.42" font-size="33.5" text-anchor="middle" letter-spacing="0.9" stroke="#000" stroke-width="0.3">***</text>
<line x1="1847.6" y1="501.8" x2="1951.5" y2="501.8" stroke="#1a1a1a" stroke-width="2.4"/>
<text transform="translate(1898.7 490.9)" y="17.42" font-size="33.5" text-anchor="middle" letter-spacing="0.9" stroke="#000" stroke-width="0.3">***</text>
<rect x="1585.5" y="466" width="410.2" height="381.8" fill="none" stroke="#000" stroke-width="2.3"/>
<line x1="1579.3" y1="594.2" x2="1585.5" y2="594.2" stroke="#222" stroke-width="2"/>
<text font-size="25" text-anchor="end" stroke="#000" stroke-width="0.3" transform="translate(1578.5 601.3) scale(0.93 1)">1.5</text>
<line x1="1579.3" y1="720.9" x2="1585.5" y2="720.9" stroke="#222" stroke-width="2"/>
<text font-size="25" text-anchor="end" stroke="#000" stroke-width="0.3" transform="translate(1578.5 728) scale(0.93 1)">1.0</text>
<line x1="1579.3" y1="847.3" x2="1585.5" y2="847.3" stroke="#222" stroke-width="2"/>
<text font-size="25" text-anchor="end" stroke="#000" stroke-width="0.3" transform="translate(1578.5 849.7) scale(0.93 1)">0.5</text>
<text font-size="23.6" text-anchor="end" stroke="#000" stroke-width="0.3" transform="translate(1695.2 866.3) rotate(-20)">Conven_Amb</text>
<text font-size="23.6" text-anchor="end" stroke="#000" stroke-width="0.3" transform="translate(1792.7 866.3) rotate(-20)">Conven_Warm</text>
<text font-size="23.6" text-anchor="end" stroke="#000" stroke-width="0.3" transform="translate(1881.5 866.3) rotate(-20)">Conserv_Amb</text>
<text font-size="23.6" text-anchor="end" stroke="#000" stroke-width="0.3" transform="translate(1975 867.5) rotate(-20)">Conserv_Warm</text>
<text font-size="26.5" text-anchor="middle" stroke="#000" stroke-width="0.3" transform="translate(1531 648) rotate(-90)">TN (g N kg<tspan font-size="14.5" dy="-9.3">-1</tspan><tspan dy="9.3">)</tspan></text>
<text x="1539.8" y="491.9" font-size="30" stroke="#000" stroke-width="0.3">(g)</text>
</g>
<g id="ph">
<line x1="82.5" y1="1146.5" x2="492" y2="1146.5" stroke="#c81e1e" stroke-width="5" stroke-dasharray="11.5 12.5" stroke-dashoffset="5.3" stroke-linecap="round"/>
<g fill="#449a8f"><ellipse cx="101" cy="1150.75" rx="9.1" ry="8.65"/><ellipse cx="207" cy="1233" rx="9.1" ry="8.65"/><ellipse cx="313" cy="1017.5" rx="9.1" ry="8.65"/><ellipse cx="365.75" cy="1081.75" rx="9.1" ry="8.65"/><ellipse cx="471.75" cy="1138.75" rx="9.1" ry="8.65"/></g>
<g fill="#eab24e"><ellipse cx="101" cy="1142" rx="9.1" ry="8.65"/><ellipse cx="207" cy="1129.5" rx="9.1" ry="8.65"/><ellipse cx="313" cy="1171.25" rx="9.1" ry="8.65"/><ellipse cx="365.75" cy="1075" rx="9.1" ry="8.65"/><ellipse cx="471.75" cy="1136.25" rx="9.1" ry="8.65"/></g>
<ellipse cx="232.5" cy="1277.75" rx="5.8" ry="5" fill="#eab24e"/>
<text x="245" y="1284.25" font-size="21.5" stroke="#000" stroke-width="0.3">Conventional agriculture</text>
<ellipse cx="232.5" cy="1299.75" rx="5.8" ry="5" fill="#3d8b88"/>
<text x="245" y="1306" font-size="21.5" stroke="#000" stroke-width="0.3">Conservation agriculture</text>
<rect x="82.5" y="938.8" width="408.3" height="377.7" fill="none" stroke="#2b2b2b" stroke-width="2.6"/>
<line x1="75" y1="1003.25" x2="82.5" y2="1003.25" stroke="#2b2b2b" stroke-width="2.3"/>
<text font-size="23.4" text-anchor="end" stroke="#000" stroke-width="0.3" transform="translate(72.9 1010.25) scale(0.89 1)">20</text>
<line x1="75" y1="1075" x2="82.5" y2="1075" stroke="#2b2b2b" stroke-width="2.3"/>
<text font-size="23.4" text-anchor="end" stroke="#000" stroke-width="0.3" transform="translate(72.9 1082) scale(0.89 1)">10</text>
<line x1="75" y1="1146.5" x2="82.5" y2="1146.5" stroke="#2b2b2b" stroke-width="2.3"/>
<text font-size="23.4" text-anchor="end" stroke="#000" stroke-width="0.3" transform="translate(72.9 1153.5) scale(0.89 1)">0</text>
<line x1="75" y1="1218.5" x2="82.5" y2="1218.5" stroke="#2b2b2b" stroke-width="2.3"/>
<text font-size="23.4" text-anchor="end" stroke="#000" stroke-width="0.3" transform="translate(72.9 1225.5) scale(0.89 1)">−10</text>
<line x1="75" y1="1290.5" x2="82.5" y2="1290.5" stroke="#2b2b2b" stroke-width="2.3"/>
<text font-size="23.4" text-anchor="end" stroke="#000" stroke-width="0.3" transform="translate(72.9 1297.5) scale(0.89 1)">−20</text>
<line x1="153.75" y1="1316.5" x2="153.75" y2="1321.6" stroke="#2b2b2b" stroke-width="2.3"/>
<text font-size="24" text-anchor="middle" stroke="#000" stroke-width="0.3" transform="translate(153.25 1342.3) scale(1.1 1)">2</text>
<line x1="260" y1="1316.5" x2="260" y2="1321.6" stroke="#2b2b2b" stroke-width="2.3"/>
<text font-size="24" text-anchor="middle" stroke="#000" stroke-width="0.3" transform="translate(259.5 1342.3) scale(1.1 1)">4</text>
<line x1="365.75" y1="1316.5" x2="365.75" y2="1321.6" stroke="#2b2b2b" stroke-width="2.3"/>
<text font-size="24" text-anchor="middle" stroke="#000" stroke-width="0.3" transform="translate(365.25 1342.3) scale(1.1 1)">6</text>
<line x1="478.25" y1="1316.5" x2="478.25" y2="1321.6" stroke="#2b2b2b" stroke-width="2.3"/>
<text font-size="24" text-anchor="middle" stroke="#000" stroke-width="0.3" transform="translate(477.75 1342.3) scale(1.1 1)">8</text>
<text font-size="24" text-anchor="middle" stroke="#000" stroke-width="0.3" transform="translate(21.3 1148.7) rotate(-90)">Warming effects on DOC</text>
<text x="25.8" y="966.6" font-size="30" stroke="#000" stroke-width="0.3">(h)</text>
</g>
<g id="pi">
<line x1="590.8" y1="1152.5" x2="998.8" y2="1152.5" stroke="#c81e1e" stroke-width="5" stroke-dasharray="11.5 12.5" stroke-dashoffset="5.3" stroke-linecap="round"/>
<g fill="#449a8f"><ellipse cx="609.5" cy="1232" rx="9.1" ry="8.65"/><ellipse cx="662.5" cy="1111.25" rx="9.1" ry="8.65"/><ellipse cx="715.25" cy="1176.75" rx="9.1" ry="8.65"/><ellipse cx="821" cy="1073" rx="9.1" ry="8.65"/><ellipse cx="873.75" cy="1067" rx="9.1" ry="8.65"/><ellipse cx="926.5" cy="1068" rx="9.1" ry="8.65"/><ellipse cx="979" cy="982.75" rx="9.1" ry="8.65"/></g>
<g fill="#eab24e"><ellipse cx="609.5" cy="1132.75" rx="9.1" ry="8.65"/><ellipse cx="662.5" cy="1139" rx="9.1" ry="8.65"/><ellipse cx="715.25" cy="1148.75" rx="9.1" ry="8.65"/><ellipse cx="821" cy="1147" rx="9.1" ry="8.65"/><ellipse cx="873.75" cy="1140" rx="9.1" ry="8.65"/><ellipse cx="926.5" cy="1121.75" rx="9.1" ry="8.65"/><ellipse cx="979" cy="1300.25" rx="9.1" ry="8.65"/></g>
<path d="M609.5,1150.0 619.0,1147.4 628.4,1144.6 637.9,1141.7 647.4,1138.7 656.9,1135.6 666.3,1132.4 675.8,1129.1 685.3,1125.6 694.8,1122.0 704.2,1118.2 713.7,1114.4 723.2,1110.4 732.7,1106.3 742.1,1102.1 751.6,1097.8 761.1,1093.3 770.6,1088.8 780.0,1084.1 789.5,1079.3 799.0,1074.5 808.5,1069.4 817.9,1064.2 827.4,1058.8 836.9,1053.3 846.4,1047.5 855.8,1041.6 865.3,1035.5 874.8,1029.3 884.3,1022.9 893.7,1016.1 903.2,1009.3 912.7,1002.4 922.2,995.6 931.6,988.9 941.1,982.3 950.6,975.7 960.1,969.2 969.5,962.7 979.0,956.2 L979.0,1056.2 969.5,1060.0 960.1,1063.8 950.6,1067.6 941.1,1071.5 931.6,1075.4 922.2,1079.3 912.7,1083.3 903.2,1087.2 893.7,1091.3 884.3,1095.3 874.8,1099.5 865.3,1103.8 855.8,1108.0 846.4,1112.3 836.9,1116.8 827.4,1121.6 817.9,1126.7 808.5,1132.6 799.0,1139.0 789.5,1145.6 780.0,1152.2 770.6,1158.4 761.1,1164.2 751.6,1169.6 742.1,1175.0 732.7,1180.3 723.2,1185.5 713.7,1190.9 704.2,1196.2 694.8,1201.6 685.3,1206.9 675.8,1212.3 666.3,1217.7 656.9,1223.3 647.4,1229.0 637.9,1234.7 628.4,1240.5 619.0,1246.3 609.5,1252.2Z" fill="#1a9f8d" fill-opacity="0.1"/>
<line x1="609.5" y1="1200" x2="979" y2="1007" stroke="#449a8f" stroke-width="8"/>
<text transform="translate(610 998) scale(1.035 1)" font-size="28" fill="#449a8f" stroke="#449a8f" stroke-width="0.3"><tspan font-style="italic">R</tspan><tspan font-size="20.5" dy="-13.3">2</tspan><tspan dy="13.3"> = 0.81 , </tspan><tspan font-style="italic">P</tspan> = 0.006</text>
<rect x="590.8" y="938.8" width="406.8" height="377.7" fill="none" stroke="#2b2b2b" stroke-width="2.6"/>
<line x1="583.3" y1="1011.25" x2="590.8" y2="1011.25" stroke="#2b2b2b" stroke-width="2.3"/>
<text font-size="23.4" text-anchor="end" stroke="#000" stroke-width="0.3" transform="translate(581.2 1018.25) scale(0.89 1)">10</text>
<line x1="583.3" y1="1081.25" x2="590.8" y2="1081.25" stroke="#2b2b2b" stroke-width="2.3"/>
<text font-size="23.4" text-anchor="end" stroke="#000" stroke-width="0.3" transform="translate(581.2 1088.25) scale(0.89 1)">5</text>
<line x1="583.3" y1="1151.25" x2="590.8" y2="1151.25" stroke="#2b2b2b" stroke-width="2.3"/>
<text font-size="23.4" text-anchor="end" stroke="#000" stroke-width="0.3" transform="translate(581.2 1158.25) scale(0.89 1)">0</text>
<line x1="583.3" y1="1221" x2="590.8" y2="1221" stroke="#2b2b2b" stroke-width="2.3"/>
<text font-size="23.4" text-anchor="end" stroke="#000" stroke-width="0.3" transform="translate(581.2 1228) scale(0.89 1)">−5</text>
<line x1="583.3" y1="1291" x2="590.8" y2="1291" stroke="#2b2b2b" stroke-width="2.3"/>
<text font-size="23.4" text-anchor="end" stroke="#000" stroke-width="0.3" transform="translate(581.2 1298) scale(0.89 1)">−10</text>
<line x1="662.5" y1="1316.5" x2="662.5" y2="1321.6" stroke="#2b2b2b" stroke-width="2.3"/>
<text font-size="24" text-anchor="middle" stroke="#000" stroke-width="0.3" transform="translate(662 1342.3) scale(1.1 1)">2</text>
<line x1="768" y1="1316.5" x2="768" y2="1321.6" stroke="#2b2b2b" stroke-width="2.3"/>
<text font-size="24" text-anchor="middle" stroke="#000" stroke-width="0.3" transform="translate(767.5 1342.3) scale(1.1 1)">4</text>
<line x1="873.25" y1="1316.5" x2="873.25" y2="1321.6" stroke="#2b2b2b" stroke-width="2.3"/>
<text font-size="24" text-anchor="middle" stroke="#000" stroke-width="0.3" transform="translate(872.75 1342.3) scale(1.1 1)">6</text>
<line x1="979" y1="1316.5" x2="979" y2="1321.6" stroke="#2b2b2b" stroke-width="2.3"/>
<text font-size="24" text-anchor="middle" stroke="#000" stroke-width="0.3" transform="translate(978.5 1342.3) scale(1.1 1)">8</text>
<text font-size="23.95" text-anchor="middle" stroke="#000" stroke-width="0.3" transform="translate(527.2 1144) rotate(-90)">Warming effects on MBC</text>
<text x="522.3" y="966.6" font-size="30" stroke="#000" stroke-width="0.3">(i)</text>
</g>
<g id="pj">
<line x1="1092" y1="1180.5" x2="1499.5" y2="1180.5" stroke="#c81e1e" stroke-width="5" stroke-dasharray="11.5 12.5" stroke-dashoffset="5.3" stroke-linecap="round"/>
<g fill="#449a8f"><ellipse cx="1110.75" cy="1249.5" rx="9.1" ry="8.65"/><ellipse cx="1163.5" cy="1227.5" rx="9.1" ry="8.65"/><ellipse cx="1216.25" cy="1159.5" rx="9.1" ry="8.65"/><ellipse cx="1269" cy="1065.75" rx="9.1" ry="8.65"/><ellipse cx="1321.75" cy="1089.25" rx="9.1" ry="8.65"/><ellipse cx="1374.25" cy="1072.5" rx="9.1" ry="8.65"/><ellipse cx="1427.25" cy="1165" rx="9.1" ry="8.65"/><ellipse cx="1479.75" cy="994.5" rx="9.1" ry="8.65"/></g>
<g fill="#eab24e"><ellipse cx="1110.75" cy="1142" rx="9.1" ry="8.65"/><ellipse cx="1163.5" cy="1179.25" rx="9.1" ry="8.65"/><ellipse cx="1216.25" cy="1176.25" rx="9.1" ry="8.65"/><ellipse cx="1269" cy="1244.25" rx="9.1" ry="8.65"/><ellipse cx="1321.75" cy="1073.75" rx="9.1" ry="8.65"/><ellipse cx="1374.25" cy="1219" rx="9.1" ry="8.65"/><ellipse cx="1427.25" cy="1178.25" rx="9.1" ry="8.65"/><ellipse cx="1479.75" cy="1171.25" rx="9.1" ry="8.65"/></g>
<path d="M1110.8,1150.0 1120.2,1147.9 1129.7,1145.8 1139.1,1143.6 1148.6,1141.3 1158.1,1138.9 1167.5,1136.5 1177.0,1134.0 1186.4,1131.4 1195.9,1128.7 1205.4,1125.9 1214.8,1123.0 1224.3,1119.8 1233.8,1116.6 1243.2,1113.1 1252.7,1109.5 1262.1,1105.5 1271.6,1101.3 1281.1,1096.6 1290.5,1091.5 1300.0,1086.0 1309.4,1080.2 1318.9,1074.3 1328.4,1068.2 1337.8,1061.7 1347.3,1054.9 1356.8,1048.0 1366.2,1040.9 1375.7,1034.0 1385.1,1026.9 1394.6,1019.8 1404.1,1012.6 1413.5,1005.4 1423.0,998.2 1432.4,991.1 1441.9,984.1 1451.4,977.1 1460.8,970.1 1470.3,963.2 1479.8,956.2 L1479.8,1105.0 1470.3,1106.7 1460.8,1108.5 1451.4,1110.5 1441.9,1112.7 1432.4,1115.0 1423.0,1117.3 1413.5,1119.9 1404.1,1122.6 1394.6,1125.5 1385.1,1128.7 1375.7,1132.0 1366.2,1135.6 1356.8,1139.5 1347.3,1143.7 1337.8,1148.2 1328.4,1152.9 1318.9,1157.7 1309.4,1162.8 1300.0,1168.3 1290.5,1173.9 1281.1,1179.8 1271.6,1185.8 1262.1,1192.0 1252.7,1198.6 1243.2,1205.4 1233.8,1212.3 1224.3,1219.2 1214.8,1226.0 1205.4,1232.7 1195.9,1239.5 1186.4,1246.2 1177.0,1252.9 1167.5,1259.7 1158.1,1266.4 1148.6,1273.0 1139.1,1279.7 1129.7,1286.4 1120.2,1293.1 1110.8,1299.8Z" fill="#1a9f8d" fill-opacity="0.1"/>
<line x1="1110.75" y1="1225" x2="1479.75" y2="1030.75" stroke="#449a8f" stroke-width="8"/>
<text transform="translate(1111.25 987) scale(1.035 1)" font-size="28" fill="#449a8f" stroke="#449a8f" stroke-width="0.3"><tspan font-style="italic">R</tspan><tspan font-size="20.5" dy="-13.3">2</tspan><tspan dy="13.3"> = 0.61 , </tspan><tspan font-style="italic">P</tspan> = 0.022</text>
<rect x="1092" y="938.8" width="406.3" height="377.7" fill="none" stroke="#2b2b2b" stroke-width="2.6"/>
<line x1="1084.5" y1="1026.75" x2="1092" y2="1026.75" stroke="#2b2b2b" stroke-width="2.3"/>
<text font-size="23.4" text-anchor="end" stroke="#000" stroke-width="0.3" transform="translate(1082.4 1033.75) scale(0.89 1)">2</text>
<line x1="1084.5" y1="1103" x2="1092" y2="1103" stroke="#2b2b2b" stroke-width="2.3"/>
<text font-size="23.4" text-anchor="end" stroke="#000" stroke-width="0.3" transform="translate(1082.4 1110) scale(0.89 1)">1</text>
<line x1="1084.5" y1="1180" x2="1092" y2="1180" stroke="#2b2b2b" stroke-width="2.3"/>
<text font-size="23.4" text-anchor="end" stroke="#000" stroke-width="0.3" transform="translate(1082.4 1187) scale(0.89 1)">0</text>
<line x1="1084.5" y1="1256.5" x2="1092" y2="1256.5" stroke="#2b2b2b" stroke-width="2.3"/>
<text font-size="23.4" text-anchor="end" stroke="#000" stroke-width="0.3" transform="translate(1082.4 1263.5) scale(0.89 1)">−1</text>
<line x1="1164.25" y1="1316.5" x2="1164.25" y2="1321.6" stroke="#2b2b2b" stroke-width="2.3"/>
<text font-size="24" text-anchor="middle" stroke="#000" stroke-width="0.3" transform="translate(1163.75 1342.3) scale(1.1 1)">2</text>
<line x1="1272" y1="1316.5" x2="1272" y2="1321.6" stroke="#2b2b2b" stroke-width="2.3"/>
<text font-size="24" text-anchor="middle" stroke="#000" stroke-width="0.3" transform="translate(1271.5 1342.3) scale(1.1 1)">4</text>
<line x1="1379.5" y1="1316.5" x2="1379.5" y2="1321.6" stroke="#2b2b2b" stroke-width="2.3"/>
<text font-size="24" text-anchor="middle" stroke="#000" stroke-width="0.3" transform="translate(1379 1342.3) scale(1.1 1)">6</text>
<line x1="1487.5" y1="1316.5" x2="1487.5" y2="1321.6" stroke="#2b2b2b" stroke-width="2.3"/>
<text font-size="24" text-anchor="middle" stroke="#000" stroke-width="0.3" transform="translate(1487 1342.3) scale(1.1 1)">8</text>
<text font-size="23.95" text-anchor="middle" stroke="#000" stroke-width="0.3" transform="translate(1044.8 1143.5) rotate(-90)">Warming effects on SOC</text>
<text x="1033.8" y="966.6" font-size="30" stroke="#000" stroke-width="0.3">(j)</text>
</g>
<g id="pk">
<line x1="1586.8" y1="1274" x2="1997.4" y2="1274" stroke="#c81e1e" stroke-width="5" stroke-dasharray="11.5 12.5" stroke-dashoffset="5.3" stroke-linecap="round"/>
<g fill="#449a8f"><ellipse cx="1605.5" cy="1295.3" rx="9.1" ry="8.65"/><ellipse cx="1658.5" cy="1188.75" rx="9.1" ry="8.65"/><ellipse cx="1711.5" cy="1235.5" rx="9.1" ry="8.65"/><ellipse cx="1764.5" cy="1170.25" rx="9.1" ry="8.65"/><ellipse cx="1817.5" cy="1184.25" rx="9.1" ry="8.65"/><ellipse cx="1870.75" cy="1107.25" rx="9.1" ry="8.65"/><ellipse cx="1923.75" cy="1190.5" rx="9.1" ry="8.65"/><ellipse cx="1976.75" cy="1190" rx="9.1" ry="8.65"/></g>
<g fill="#eab24e"><ellipse cx="1605.5" cy="1183" rx="9.1" ry="8.65"/><ellipse cx="1658.5" cy="1079.5" rx="9.1" ry="8.65"/><ellipse cx="1711.5" cy="956" rx="9.1" ry="8.65"/><ellipse cx="1764.5" cy="1213.75" rx="9.1" ry="8.65"/><ellipse cx="1817.5" cy="1130.25" rx="9.1" ry="8.65"/><ellipse cx="1870.75" cy="1005.75" rx="9.1" ry="8.65"/><ellipse cx="1923.75" cy="1195.75" rx="9.1" ry="8.65"/><ellipse cx="1976.75" cy="1093.75" rx="9.1" ry="8.65"/></g>
<rect x="1586.8" y="938.8" width="409.4" height="377.7" fill="none" stroke="#2b2b2b" stroke-width="2.6"/>
<line x1="1579.3" y1="1001.75" x2="1586.8" y2="1001.75" stroke="#2b2b2b" stroke-width="2.3"/>
<text font-size="23.4" text-anchor="end" stroke="#000" stroke-width="0.3" transform="translate(1577.2 1008.75) scale(0.89 1)">2.0</text>
<line x1="1579.3" y1="1069.5" x2="1586.8" y2="1069.5" stroke="#2b2b2b" stroke-width="2.3"/>
<text font-size="23.4" text-anchor="end" stroke="#000" stroke-width="0.3" transform="translate(1577.2 1076.5) scale(0.89 1)">1.5</text>
<line x1="1579.3" y1="1137.5" x2="1586.8" y2="1137.5" stroke="#2b2b2b" stroke-width="2.3"/>
<text font-size="23.4" text-anchor="end" stroke="#000" stroke-width="0.3" transform="translate(1577.2 1144.5) scale(0.89 1)">1.0</text>
<line x1="1579.3" y1="1205.5" x2="1586.8" y2="1205.5" stroke="#2b2b2b" stroke-width="2.3"/>
<text font-size="23.4" text-anchor="end" stroke="#000" stroke-width="0.3" transform="translate(1577.2 1212.5) scale(0.89 1)">0.5</text>
<line x1="1579.3" y1="1273.75" x2="1586.8" y2="1273.75" stroke="#2b2b2b" stroke-width="2.3"/>
<text font-size="23.4" text-anchor="end" stroke="#000" stroke-width="0.3" transform="translate(1577.2 1280.75) scale(0.89 1)">0.0</text>
<line x1="1658" y1="1316.5" x2="1658" y2="1321.6" stroke="#2b2b2b" stroke-width="2.3"/>
<text font-size="24" text-anchor="middle" stroke="#000" stroke-width="0.3" transform="translate(1657.5 1342.3) scale(1.1 1)">2</text>
<line x1="1763.8" y1="1316.5" x2="1763.8" y2="1321.6" stroke="#2b2b2b" stroke-width="2.3"/>
<text font-size="24" text-anchor="middle" stroke="#000" stroke-width="0.3" transform="translate(1763.3 1342.3) scale(1.1 1)">4</text>
<line x1="1870" y1="1316.5" x2="1870" y2="1321.6" stroke="#2b2b2b" stroke-width="2.3"/>
<text font-size="24" text-anchor="middle" stroke="#000" stroke-width="0.3" transform="translate(1869.5 1342.3) scale(1.1 1)">6</text>
<line x1="1976.4" y1="1316.5" x2="1976.4" y2="1321.6" stroke="#2b2b2b" stroke-width="2.3"/>
<text font-size="24" text-anchor="middle" stroke="#000" stroke-width="0.3" transform="translate(1975.9 1342.3) scale(1.1 1)">8</text>
<text font-size="23.7" text-anchor="middle" stroke="#000" stroke-width="0.3" transform="translate(1535.3 1143.7) rotate(-90)">Warming effects on TN</text>
<text x="1539.8" y="966.6" font-size="30" stroke="#000" stroke-width="0.3">(k)</text>
</g>
<text x="982.3" y="1376" font-size="32.7" stroke="#000" stroke-width="0.3">Time (years)</text>
</svg>
</body></html>
